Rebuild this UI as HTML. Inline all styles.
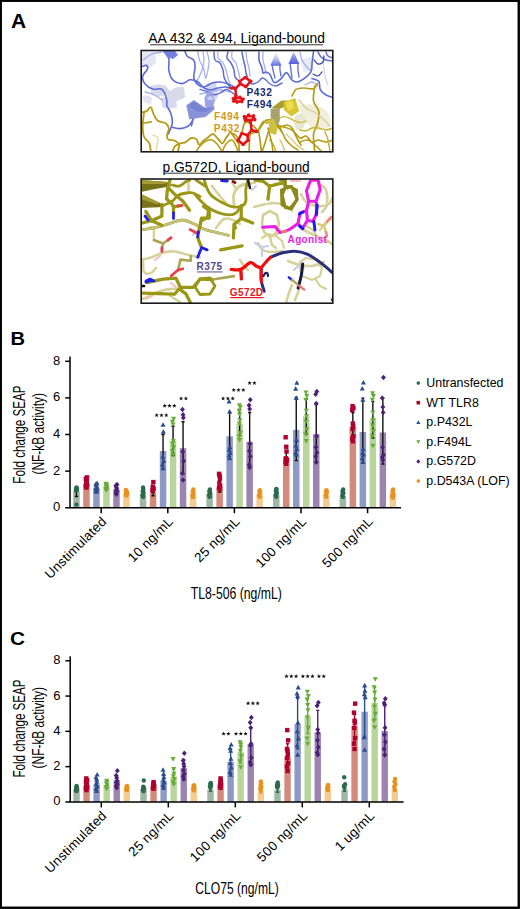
<!DOCTYPE html><html><head><meta charset="utf-8"><style>html,body{margin:0;padding:0;background:#fff;}svg{display:block;}</style></head><body>
<svg width="520" height="909" viewBox="0 0 520 909" font-family='"Liberation Sans", sans-serif'>
<rect width="520" height="909" fill="#fff"/>
<rect x="0.75" y="0.75" width="518" height="907" fill="none" stroke="#000" stroke-width="2.4"/>
<text transform="translate(10.9 27.5) scale(1.06 1)" font-size="19.8" font-weight="bold">A</text>
<text transform="translate(10.5 345.2) scale(1.13 1)" font-size="17.8" font-weight="bold">B</text>
<text transform="translate(10 644.6) scale(1.17 1)" font-size="17.8" font-weight="bold">C</text>
<text x="236.6" y="43" font-size="13.8" text-anchor="middle">AA 432 &amp; 494, Ligand-bound</text><rect x="150.2" y="44.3" width="172.8" height="1" fill="#333"/>
<text x="236.1" y="171.6" font-size="13.8" text-anchor="middle">p.G572D, Ligand-bound</text><rect x="164.4" y="172.7" width="143.6" height="1" fill="#333"/>
<g id="imgA1"><defs><clipPath id="c1"><rect x="141.2" y="50.5" width="191.6" height="101.3"/></clipPath><linearGradient id="ga" x1="0" y1="0" x2="0" y2="1"><stop offset="0" stop-color="#fff"/><stop offset="0.55" stop-color="#b8c0f0"/><stop offset="1" stop-color="#5a6ae0"/></linearGradient><linearGradient id="gb" x1="0" y1="0" x2="0" y2="1"><stop offset="0" stop-color="#c8cff5"/><stop offset="0.5" stop-color="#7d8aea"/><stop offset="1" stop-color="#5565e0"/></linearGradient></defs>
<g clip-path="url(#c1)">
<path d="M142 52 L155 52 L156 62 L150 68 L142 66Z" fill="#e4e6f3"/>
<path d="M151 86 C156 84 162 84 166 86 L170 91 C174 87 180 86 184 87 L185 97 C180 101 174 102 170 100 L166 95 C160 97 154 97 151 94 Z" fill="#d9dae9"/>
<path d="M161 98 C166 96 172 97 176 99 L177 107 C172 109 166 109 162 107 Z" fill="#d6d9ef"/>
<path d="M143 96 C146 95 150 96 152 98 L151 104 C148 104 145 103 143 101 Z" fill="#e2e3ef"/>
<path d="M206 84 L216 82 L218 96 L214 104 L208 100Z" fill="#c6ccf0" opacity="0.8"/>
<path d="M295 116 C300 112 306 113 306 118 C306 126 302 131 297 130 C294 127 293 120 295 116Z" fill="#e6e4cc" opacity="0.9"/>
<path d="M298 106 C306 102 318 104 326 110 C332 116 332 126 326 130 C318 131 310 128 306 122Z" fill="#efedd8" opacity="0.9"/>
<path d="M300 60 L312 56 L314 70 L304 72Z" fill="#e8eaf6"/>
<path d="M143.0 60.0C144.2 59.2 147.8 56.2 150.0 55.0C152.2 53.8 154.0 53.5 156.0 53.0C158.0 52.5 161.0 52.2 162.0 52.0" stroke="#a8b0e6" stroke-width="1.3" fill="none" stroke-linecap="round" stroke-linejoin="round"/>
<path d="M203.0 52.0C203.2 53.3 204.2 57.0 204.0 60.0C203.8 63.0 202.8 67.2 202.0 70.0C201.2 72.8 200.0 75.0 199.0 77.0C198.0 79.0 196.5 81.2 196.0 82.0" stroke="#a8b0e6" stroke-width="1.3" fill="none" stroke-linecap="round" stroke-linejoin="round"/>
<path d="M207.0 52.0C207.3 53.3 208.8 57.0 209.0 60.0C209.2 63.0 208.5 67.0 208.0 70.0C207.5 73.0 206.3 76.7 206.0 78.0" stroke="#a8b0e6" stroke-width="1.3" fill="none" stroke-linecap="round" stroke-linejoin="round"/>
<path d="M218.0 52.0C218.0 53.0 217.2 56.2 218.0 58.0C218.8 59.8 221.7 61.0 223.0 63.0C224.3 65.0 225.2 67.5 226.0 70.0C226.8 72.5 227.3 75.7 228.0 78.0C228.7 80.3 229.7 83.0 230.0 84.0" stroke="#a8b0e6" stroke-width="1.3" fill="none" stroke-linecap="round" stroke-linejoin="round"/>
<path d="M232.0 52.0C232.0 53.0 231.3 56.2 232.0 58.0C232.7 59.8 235.0 61.0 236.0 63.0C237.0 65.0 237.3 67.5 238.0 70.0C238.7 72.5 239.7 76.7 240.0 78.0" stroke="#a8b0e6" stroke-width="1.3" fill="none" stroke-linecap="round" stroke-linejoin="round"/>
<path d="M246.0 52.0C246.2 53.3 246.5 57.3 247.0 60.0C247.5 62.7 248.5 65.3 249.0 68.0C249.5 70.7 249.8 74.7 250.0 76.0" stroke="#a8b0e6" stroke-width="1.3" fill="none" stroke-linecap="round" stroke-linejoin="round"/>
<path d="M263.0 52.0C263.0 53.3 262.7 57.3 263.0 60.0C263.3 62.7 264.5 65.7 265.0 68.0C265.5 70.3 265.8 73.0 266.0 74.0" stroke="#a8b0e6" stroke-width="1.3" fill="none" stroke-linecap="round" stroke-linejoin="round"/>
<path d="M145.0 92.0C146.2 92.3 149.8 93.2 152.0 94.0C154.2 94.8 156.3 96.0 158.0 97.0C159.7 98.0 161.3 99.5 162.0 100.0" stroke="#a8b0e6" stroke-width="1.3" fill="none" stroke-linecap="round" stroke-linejoin="round"/>
<path d="M200.0 94.0C201.7 93.7 206.7 92.7 210.0 92.0C213.3 91.3 216.7 90.0 220.0 90.0C223.3 90.0 228.3 91.7 230.0 92.0" stroke="#a8b0e6" stroke-width="1.3" fill="none" stroke-linecap="round" stroke-linejoin="round"/>
<path d="M197.7 50.9C198.0 52.5 198.6 57.6 199.6 60.5C200.6 63.4 202.5 65.3 203.5 68.2C204.5 71.1 205.1 76.2 205.4 77.8" stroke="#a8b0e6" stroke-width="1.3" fill="none" stroke-linecap="round" stroke-linejoin="round"/>
<path d="M300.0 52.0C300.3 53.3 301.0 57.7 302.0 60.0C303.0 62.3 304.7 64.3 306.0 66.0C307.3 67.7 309.3 69.3 310.0 70.0" stroke="#a8b0e6" stroke-width="1.3" fill="none" stroke-linecap="round" stroke-linejoin="round"/>
<path d="M305.0 85.0C306.2 84.5 309.8 81.8 312.0 82.0C314.2 82.2 317.0 85.3 318.0 86.0" stroke="#a8b0e6" stroke-width="1.3" fill="none" stroke-linecap="round" stroke-linejoin="round"/>
<path d="M323.0 58.0C323.2 60.0 323.5 66.3 324.0 70.0C324.5 73.7 325.3 77.5 326.0 80.0C326.7 82.5 327.7 84.2 328.0 85.0" stroke="#d4d4e2" stroke-width="1.3" fill="none" stroke-linecap="round" stroke-linejoin="round"/>
<path d="M164.0 51.5C164.8 52.7 168.0 55.5 168.8 58.6C169.6 61.7 168.2 66.7 168.8 70.2C169.5 73.7 170.4 77.6 172.7 79.8C174.9 82.0 179.4 83.6 182.3 83.6C185.2 83.6 187.4 80.1 190.0 79.8C192.6 79.5 195.4 80.4 197.7 81.7C199.9 83.0 201.4 86.1 203.5 87.5C205.6 88.9 207.6 89.9 210.0 90.0C212.4 90.1 215.3 88.5 218.0 88.0C220.7 87.5 223.7 86.8 226.0 87.0C228.3 87.2 231.0 88.7 232.0 89.0" stroke="#5d6cd2" stroke-width="1.6" fill="none" stroke-linecap="round" stroke-linejoin="round"/>
<path d="M185.0 51.5C185.4 52.3 186.0 55.0 187.5 56.5C189.0 58.0 192.6 58.4 193.8 60.3C195.1 62.2 195.0 64.9 195.0 67.8C195.0 70.7 193.2 74.9 193.8 77.8C194.4 80.7 196.9 83.8 198.8 85.3C200.7 86.8 202.8 86.9 205.0 86.5C207.2 86.1 209.5 83.8 212.0 83.0C214.5 82.2 217.3 81.8 220.0 82.0C222.7 82.2 225.3 83.0 228.0 84.0C230.7 85.0 234.7 87.3 236.0 88.0" stroke="#5d6cd2" stroke-width="1.6" fill="none" stroke-linecap="round" stroke-linejoin="round"/>
<path d="M142.5 66.5C143.1 66.3 145.5 64.9 146.3 65.3C147.1 65.7 147.9 67.5 147.5 69.0C147.1 70.5 144.6 72.5 143.8 74.0C143.0 75.5 142.3 76.1 142.5 77.8C142.7 79.5 143.3 82.1 145.0 84.0C146.7 85.9 149.8 88.2 152.5 89.0C155.2 89.8 159.2 88.2 161.3 89.0C163.4 89.8 164.1 92.0 165.0 94.0C165.9 96.0 166.6 99.0 166.9 101.0C167.2 103.0 166.2 103.6 166.9 105.7C167.6 107.8 170.1 110.9 171.0 113.8C171.9 116.7 172.8 119.8 172.3 123.2C171.9 126.6 169.0 132.2 168.3 134.0" stroke="#5d6cd2" stroke-width="1.6" fill="none" stroke-linecap="round" stroke-linejoin="round"/>
<path d="M172.3 127.3C173.7 127.5 177.7 128.8 180.4 128.6C183.1 128.4 186.5 127.3 188.5 126.0C190.5 124.7 191.6 122.1 192.5 120.5C193.4 118.9 193.6 117.2 193.8 116.5" stroke="#5d6cd2" stroke-width="1.6" fill="none" stroke-linecap="round" stroke-linejoin="round"/>
<path d="M214.0 52.0C214.2 53.3 214.0 58.2 215.0 60.0C216.0 61.8 218.7 61.3 220.0 63.0C221.3 64.7 222.3 67.7 223.0 70.0C223.7 72.3 223.3 74.8 224.0 77.0C224.7 79.2 225.8 81.2 227.0 83.0C228.2 84.8 230.3 87.2 231.0 88.0" stroke="#5d6cd2" stroke-width="1.5" fill="none" stroke-linecap="round" stroke-linejoin="round"/>
<path d="M228.0 52.0C227.8 53.0 226.5 56.2 227.0 58.0C227.5 59.8 229.8 61.0 231.0 63.0C232.2 65.0 233.3 67.7 234.0 70.0C234.7 72.3 234.2 75.2 235.0 77.0C235.8 78.8 238.3 80.3 239.0 81.0" stroke="#5d6cd2" stroke-width="1.5" fill="none" stroke-linecap="round" stroke-linejoin="round"/>
<path d="M242.0 52.0C242.2 53.0 242.5 55.7 243.0 58.0C243.5 60.3 244.5 63.5 245.0 66.0C245.5 68.5 245.5 70.8 246.0 73.0C246.5 75.2 247.7 78.0 248.0 79.0" stroke="#5d6cd2" stroke-width="1.5" fill="none" stroke-linecap="round" stroke-linejoin="round"/>
<path d="M259.0 52.0C259.0 53.3 258.5 57.3 259.0 60.0C259.5 62.7 261.3 65.8 262.0 68.0C262.7 70.2 262.3 72.3 263.0 73.0C263.7 73.7 264.8 71.7 266.0 72.0C267.2 72.3 268.6 72.8 270.0 74.6C271.4 76.4 272.5 81.9 274.4 82.6C276.3 83.3 279.2 80.3 281.2 78.6C283.2 76.9 284.7 72.4 286.5 72.6C288.3 72.8 290.1 78.4 291.9 80.0C293.7 81.6 295.3 82.2 297.3 82.0C299.3 81.8 301.8 80.3 304.0 78.6C306.2 76.9 309.4 74.6 310.8 71.9C312.2 69.2 311.7 65.9 312.1 62.5C312.6 59.1 313.3 53.5 313.5 51.7" stroke="#5d6cd2" stroke-width="1.6" fill="none" stroke-linecap="round" stroke-linejoin="round"/>
<path d="M200.0 89.4C201.3 89.8 205.5 91.1 208.0 92.0C210.5 92.9 212.5 94.8 214.8 94.8C217.1 94.8 220.0 92.9 222.0 92.0C224.0 91.1 224.7 88.9 226.9 89.4C229.1 89.9 233.7 93.9 235.0 94.8" stroke="#5d6cd2" stroke-width="1.4" fill="none" stroke-linecap="round" stroke-linejoin="round"/>
<path d="M248.0 80.0C248.7 80.7 250.3 83.7 252.0 84.0C253.7 84.3 256.3 83.0 258.0 82.0C259.7 81.0 260.7 78.3 262.0 78.0C263.3 77.7 264.7 79.0 266.0 80.0C267.3 81.0 268.3 83.0 270.0 84.0C271.7 85.0 274.0 86.2 276.0 86.0C278.0 85.8 281.0 83.5 282.0 83.0" stroke="#5d6cd2" stroke-width="1.4" fill="none" stroke-linecap="round" stroke-linejoin="round"/>
<path d="M312.0 78.6C313.1 79.0 317.4 79.5 318.8 81.3C320.2 83.1 319.1 87.2 320.2 89.4C321.3 91.7 323.5 93.5 325.6 94.8C327.7 96.1 331.8 97.0 333.0 97.5" stroke="#5d6cd2" stroke-width="1.6" fill="none" stroke-linecap="round" stroke-linejoin="round"/>
<path d="M318.0 52.0C318.5 52.8 319.7 55.7 321.0 57.0C322.3 58.3 324.0 59.3 326.0 60.0C328.0 60.7 331.8 60.8 333.0 61.0" stroke="#5d6cd2" stroke-width="1.5" fill="none" stroke-linecap="round" stroke-linejoin="round"/>
<path d="M272.0 64.0C272.2 65.0 272.5 67.7 273.0 70.0C273.5 72.3 274.7 76.7 275.0 78.0" stroke="#5d6cd2" stroke-width="1.3" fill="none" stroke-linecap="round" stroke-linejoin="round"/>
<path d="M280.0 64.0C280.0 65.0 279.8 68.0 280.0 70.0C280.2 72.0 280.8 75.0 281.0 76.0" stroke="#5d6cd2" stroke-width="1.3" fill="none" stroke-linecap="round" stroke-linejoin="round"/>
<path d="M290.0 63.0C290.2 64.2 290.7 67.5 291.0 70.0C291.3 72.5 291.8 76.7 292.0 78.0" stroke="#5d6cd2" stroke-width="1.3" fill="none" stroke-linecap="round" stroke-linejoin="round"/>
<path d="M298.0 63.0C298.0 64.2 297.8 67.7 298.0 70.0C298.2 72.3 298.8 75.8 299.0 77.0" stroke="#5d6cd2" stroke-width="1.3" fill="none" stroke-linecap="round" stroke-linejoin="round"/>
<path d="M326.0 52.0C326.3 52.7 326.8 55.0 328.0 56.0C329.2 57.0 332.2 57.7 333.0 58.0" stroke="#5d6cd2" stroke-width="1.4" fill="none" stroke-linecap="round" stroke-linejoin="round"/>
<path d="M314.0 60.0C314.7 60.7 316.5 63.7 318.0 64.0C319.5 64.3 322.0 63.3 323.0 62.0C324.0 60.7 323.8 57.0 324.0 56.0" stroke="#3a4aa8" stroke-width="1.3" fill="none" stroke-linecap="round" stroke-linejoin="round"/>
<path d="M313.0 74.0C313.8 74.3 316.5 76.3 318.0 76.0C319.5 75.7 321.3 72.7 322.0 72.0" stroke="#3a4aa8" stroke-width="1.2" fill="none" stroke-linecap="round" stroke-linejoin="round"/>
<path d="M275.8 51.5 L281.4 65.8 L270.4 65.8Z" fill="url(#ga)"/>
<path d="M293.6 51.5 L299.4 64 L288.4 64Z" fill="url(#gb)"/>
<path d="M164 51 L175 51 L178 55 L173 59 L167 57Z" fill="#7280e0"/>
<path d="M186.2 105.4 L193.8 100 L205.4 107.7 L213.8 105.4 L214.6 109.2 L205.4 116.9 L195.4 118.5 L189.2 119.2 L187.7 111.5Z" fill="#8893da"/>
<path d="M188 106 L194 102 L205 109 L213 106.5 L205 112 L196 111Z" fill="#7682d2"/>
<path d="M204.6 97.7 L207.7 91.5 L212.3 92.3 L214.6 101.5 L213.1 106.2 L205.4 107.7 L204.6 101.5Z" fill="#9aa3e4"/>
<path d="M207 97 L212 96 L213 100 L208 100Z" fill="#c8cdf5"/>
<path d="M193.0 119.2L191.5 126.0" stroke="#5d6cd2" stroke-width="1.4" fill="none" stroke-linecap="round" stroke-linejoin="round"/>
<path d="M141.3 112.5C142.2 112.3 145.1 112.0 146.7 111.1C148.3 110.2 149.7 106.6 150.8 107.1C151.9 107.5 152.4 111.6 153.5 113.8C154.6 116.0 155.5 118.9 157.5 120.5C159.5 122.1 163.7 121.9 165.6 123.2C167.5 124.5 168.7 126.6 168.9 128.6C169.1 130.6 167.0 133.5 166.9 135.3C166.8 137.1 167.0 138.5 168.3 139.4C169.7 140.3 173.2 139.8 175.0 140.7C176.8 141.6 178.6 142.9 179.0 144.8C179.4 146.7 177.9 150.8 177.7 152.0" stroke="#b49c14" stroke-width="1.8" fill="none" stroke-linecap="round" stroke-linejoin="round"/>
<path d="M144.0 112.5C143.8 114.7 142.7 121.9 142.7 125.9C142.7 129.9 142.9 133.8 144.0 136.7C145.1 139.6 148.3 140.8 149.4 143.4C150.5 146.0 150.6 150.6 150.8 152.0" stroke="#b49c14" stroke-width="1.8" fill="none" stroke-linecap="round" stroke-linejoin="round"/>
<path d="M142.7 123.2L151.4 121.9" stroke="#b49c14" stroke-width="1.6" fill="none" stroke-linecap="round" stroke-linejoin="round"/>
<path d="M153.0 135.0C153.8 135.5 157.3 136.3 158.0 138.0C158.7 139.7 157.3 142.8 157.0 145.0C156.7 147.2 156.2 150.0 156.0 151.0" stroke="#e2dcaa" stroke-width="1.4" fill="none" stroke-linecap="round" stroke-linejoin="round"/>
<path d="M172.3 152.0C172.8 151.0 173.7 147.5 175.0 146.1C176.3 144.7 178.6 144.1 180.4 143.4C182.2 142.7 184.0 143.0 185.8 142.1C187.6 141.2 189.3 138.4 191.1 138.0C192.9 137.6 195.2 138.3 196.5 139.4C197.8 140.5 198.1 144.6 199.2 144.8C200.3 145.0 202.0 141.8 203.3 140.7C204.7 139.6 205.7 139.1 207.3 138.0C208.9 136.9 211.2 133.8 213.0 134.0C214.8 134.2 216.4 137.4 218.0 139.0C219.6 140.6 221.2 143.6 222.5 143.4C223.8 143.2 224.7 139.8 226.0 138.0C227.3 136.2 229.3 132.8 230.6 132.6C231.9 132.4 232.7 135.2 234.0 137.0C235.3 138.8 237.8 142.3 238.6 143.4" stroke="#b49c14" stroke-width="1.8" fill="none" stroke-linecap="round" stroke-linejoin="round"/>
<path d="M196.0 152.0C196.7 151.0 198.3 147.8 200.0 146.0C201.7 144.2 204.0 142.0 206.0 141.0C208.0 140.0 210.0 139.3 212.0 140.0C214.0 140.7 216.3 143.0 218.0 145.0C219.7 147.0 221.3 150.8 222.0 152.0" stroke="#b49c14" stroke-width="1.6" fill="none" stroke-linecap="round" stroke-linejoin="round"/>
<path d="M222.0 152.0C222.7 150.7 224.3 146.0 226.0 144.0C227.7 142.0 230.3 139.7 232.0 140.0C233.7 140.3 235.0 144.0 236.0 146.0C237.0 148.0 237.7 151.0 238.0 152.0" stroke="#b49c14" stroke-width="1.6" fill="none" stroke-linecap="round" stroke-linejoin="round"/>
<path d="M232.0 133.4C232.5 133.6 234.1 133.6 235.1 134.6C236.1 135.6 237.5 136.6 238.2 139.5C238.9 142.4 239.2 149.9 239.4 152.0" stroke="#b49c14" stroke-width="1.7" fill="none" stroke-linecap="round" stroke-linejoin="round"/>
<path d="M241.8 133.4C242.2 131.8 243.3 125.3 244.3 123.5C245.3 121.7 246.7 122.1 248.0 122.3C249.3 122.5 250.8 123.5 252.3 124.8C253.8 126.1 256.1 128.9 257.2 130.3C258.3 131.7 258.3 129.8 259.0 133.4C259.7 137.0 261.1 148.9 261.5 152.0" stroke="#b49c14" stroke-width="1.7" fill="none" stroke-linecap="round" stroke-linejoin="round"/>
<path d="M249.2 152.0C249.3 149.3 249.3 138.9 249.8 135.8C250.3 132.7 251.0 134.2 252.3 133.4C253.6 132.6 255.9 132.8 257.8 130.9C259.8 129.1 262.3 124.1 264.0 122.3C265.7 120.5 267.3 120.4 268.0 120.0" stroke="#b49c14" stroke-width="1.7" fill="none" stroke-linecap="round" stroke-linejoin="round"/>
<path d="M257.8 130.9C258.4 129.8 260.5 125.7 261.5 124.0C262.5 122.3 263.6 121.5 264.0 121.0" stroke="#b49c14" stroke-width="1.6" fill="none" stroke-linecap="round" stroke-linejoin="round"/>
<path d="M262.0 152.0C262.7 150.0 264.7 144.0 266.0 140.0C267.3 136.0 268.3 130.3 270.0 128.0C271.7 125.7 274.0 125.3 276.0 126.0C278.0 126.7 280.3 129.7 282.0 132.0C283.7 134.3 284.3 137.7 286.0 140.0C287.7 142.3 290.0 144.3 292.0 146.0C294.0 147.7 297.0 149.3 298.0 150.0" stroke="#b49c14" stroke-width="1.6" fill="none" stroke-linecap="round" stroke-linejoin="round"/>
<path d="M266.0 123.0C267.0 122.8 269.7 121.5 272.0 122.0C274.3 122.5 276.7 124.7 280.0 126.0C283.3 127.3 288.7 128.0 292.0 130.0C295.3 132.0 297.7 137.0 300.0 138.0C302.3 139.0 304.0 135.3 306.0 136.0C308.0 136.7 310.0 141.3 312.0 142.0C314.0 142.7 315.7 140.0 318.0 140.0C320.3 140.0 323.5 142.0 326.0 142.0C328.5 142.0 331.8 140.3 333.0 140.0" stroke="#b49c14" stroke-width="1.6" fill="none" stroke-linecap="round" stroke-linejoin="round"/>
<path d="M270.0 140.0C270.7 141.0 273.0 144.0 274.0 146.0C275.0 148.0 275.7 151.0 276.0 152.0" stroke="#c8b430" stroke-width="1.6" fill="none" stroke-linecap="round" stroke-linejoin="round"/>
<path d="M280.0 140.0C280.5 141.0 282.2 144.0 283.0 146.0C283.8 148.0 284.7 151.0 285.0 152.0" stroke="#d4c470" stroke-width="1.5" fill="none" stroke-linecap="round" stroke-linejoin="round"/>
<path d="M291.9 96.1C292.6 95.0 294.0 90.8 296.0 89.4C298.0 88.1 301.1 88.1 304.0 88.0C306.9 87.9 311.2 89.5 313.5 88.7C315.8 87.9 316.8 84.2 317.5 83.3" stroke="#b49c14" stroke-width="1.6" fill="none" stroke-linecap="round" stroke-linejoin="round"/>
<path d="M314.8 86.0C314.6 88.5 312.8 96.5 313.5 100.8C314.2 105.0 318.1 107.7 318.8 111.5C319.5 115.3 318.4 119.8 317.5 123.6C316.6 127.4 313.9 129.7 313.5 134.4C313.1 139.1 314.6 149.1 314.8 152.0" stroke="#b49c14" stroke-width="1.7" fill="none" stroke-linecap="round" stroke-linejoin="round"/>
<path d="M300.0 130.0C301.0 130.2 304.0 131.3 306.0 131.0C308.0 130.7 310.0 128.5 312.0 128.0C314.0 127.5 315.7 127.7 318.0 128.0C320.3 128.3 323.5 130.0 326.0 130.0C328.5 130.0 331.8 128.3 333.0 128.0" stroke="#c8b430" stroke-width="1.5" fill="none" stroke-linecap="round" stroke-linejoin="round"/>
<path d="M299.0 100.0C300.2 101.3 303.5 106.0 306.0 108.0C308.5 110.0 311.3 110.3 314.0 112.0C316.7 113.7 319.3 115.7 322.0 118.0C324.7 120.3 328.7 124.7 330.0 126.0" stroke="#d8d0a0" stroke-width="1.4" fill="none" stroke-linecap="round" stroke-linejoin="round"/>
<path d="M286.0 134.0C287.0 135.0 290.0 138.0 292.0 140.0C294.0 142.0 296.0 144.3 298.0 146.0C300.0 147.7 303.0 149.3 304.0 150.0" stroke="#d8cc80" stroke-width="1.4" fill="none" stroke-linecap="round" stroke-linejoin="round"/>
<path d="M300.0 142.0C301.3 141.7 305.3 139.3 308.0 140.0C310.7 140.7 313.7 144.0 316.0 146.0C318.3 148.0 321.0 151.0 322.0 152.0" stroke="#b49c14" stroke-width="1.5" fill="none" stroke-linecap="round" stroke-linejoin="round"/>
<path d="M325.0 132.0C325.5 133.3 327.2 136.7 328.0 140.0C328.8 143.3 329.7 150.0 330.0 152.0" stroke="#c8b430" stroke-width="1.5" fill="none" stroke-linecap="round" stroke-linejoin="round"/>
<path d="M266.0 120.4C266.8 120.3 268.9 119.2 270.6 119.6C272.3 120.0 274.5 121.4 276.0 122.7C277.5 124.0 278.9 125.9 279.8 127.3C280.7 128.7 281.1 130.4 281.4 131.0" stroke="#b49c14" stroke-width="1.7" fill="none" stroke-linecap="round" stroke-linejoin="round"/>
<path d="M276.0 125.8C276.9 125.9 279.5 126.6 281.4 126.5C283.3 126.4 285.7 124.8 287.5 125.0C289.3 125.2 290.8 126.5 292.0 128.0C293.2 129.5 294.0 132.0 295.0 134.0C296.0 136.0 297.0 138.2 298.0 140.0C299.0 141.8 300.5 144.2 301.0 145.0" stroke="#b49c14" stroke-width="1.7" fill="none" stroke-linecap="round" stroke-linejoin="round"/>
<path d="M279.8 118.0C280.4 117.8 282.2 116.5 283.7 116.5C285.2 116.5 287.1 117.2 289.0 118.0C290.9 118.8 293.1 120.2 295.0 121.0C296.9 121.8 298.8 122.7 300.6 122.7C302.4 122.7 305.1 121.3 306.0 121.0" stroke="#cfc050" stroke-width="1.5" fill="none" stroke-linecap="round" stroke-linejoin="round"/>
<path d="M268.0 128.0C268.3 129.3 269.3 133.3 270.0 136.0C270.7 138.7 271.5 141.3 272.0 144.0C272.5 146.7 272.8 150.7 273.0 152.0" stroke="#b49c14" stroke-width="1.6" fill="none" stroke-linecap="round" stroke-linejoin="round"/>
<path d="M270.6 108.8 L279.8 108.1 L279.8 120.4 L277.5 125.8 L272.2 124.2 L270.6 116.5Z" fill="#a9a26e"/>
<path d="M271.4 108.1 L281.4 100.4 L287.5 100.4 L283.7 107.3 L279.8 108.8Z" fill="#aa9c30"/>
<path d="M283.7 101.9 L295.2 98.1 L299.1 111.2 L291.4 116.5 L283.7 109.6Z" fill="#d8c430"/>
<path d="M285.5 103 L292 100.5 L294.5 108 L288 111Z" fill="#ecdc50"/>
<path d="M268.3 120 L274 119 L277.5 128 L276 135 L270 133Z" fill="#cfc040"/>
<g stroke="#e6121a" stroke-width="2.5" fill="none" stroke-linejoin="round" stroke-linecap="round"><path d="M239.7 81.2 L245.2 77.5 L250.8 81.2 L245.8 86.8 L240.3 83.7 L239.7 81.2"/><path d="M239.7 84.3 L235.4 88.6 L230.5 88"/><path d="M235.4 88.6 L236 95.4 L234.2 98.5"/></g><g fill="#e6121a"><circle cx="239.7" cy="81.2" r="1.75"/><circle cx="245.2" cy="77.5" r="1.75"/><circle cx="250.8" cy="81.2" r="1.75"/><circle cx="245.8" cy="86.8" r="1.75"/><circle cx="240.3" cy="83.7" r="1.75"/><circle cx="235.4" cy="88.6" r="1.75"/><circle cx="236" cy="95.4" r="1.75"/></g>
<ellipse cx="238.2" cy="99.8" rx="6" ry="3.2" fill="#e6121a"/>
<ellipse cx="238.5" cy="99.6" rx="2.2" ry="0.9" fill="#f4a0a0"/>
<g stroke="#e6121a" stroke-width="2.5" fill="none" stroke-linejoin="round" stroke-linecap="round"></g><g fill="#e6121a"><circle cx="233" cy="98.5" r="1.4"/><circle cx="236" cy="97" r="1.4"/><circle cx="240" cy="97" r="1.4"/><circle cx="243.5" cy="99" r="1.4"/><circle cx="242" cy="102" r="1.4"/><circle cx="237" cy="102.5" r="1.4"/><circle cx="233.5" cy="101.5" r="1.4"/></g>
<ellipse cx="249.2" cy="118.3" rx="6.2" ry="3.4" fill="#e6121a"/>
<ellipse cx="249.5" cy="118" rx="2.5" ry="1" fill="#f4b0b0"/>
<g stroke="#e6121a" stroke-width="2.5" fill="none" stroke-linejoin="round" stroke-linecap="round"><path d="M250.5 121.7 L251.7 130.3 L256.6 131.5"/><path d="M251.7 130.3 L247.4 135.2"/><path d="M247.4 135.2 L241.8 133.4 L238.2 140.2 L243.1 144.5 L248 140.2 L247.4 135.2"/></g><g fill="#e6121a"><circle cx="244.3" cy="116.5" r="1.75"/><circle cx="248.6" cy="115" r="1.75"/><circle cx="253.5" cy="115.8" r="1.75"/><circle cx="254.8" cy="119.8" r="1.75"/><circle cx="250.5" cy="121.7" r="1.75"/><circle cx="245.5" cy="120.5" r="1.75"/><circle cx="251.7" cy="130.3" r="1.75"/><circle cx="247.4" cy="135.2" r="1.75"/><circle cx="241.8" cy="133.4" r="1.75"/><circle cx="238.2" cy="140.2" r="1.75"/><circle cx="243.1" cy="144.5" r="1.75"/><circle cx="248" cy="140.2" r="1.75"/><circle cx="256.6" cy="131.5" r="1.75"/></g>
</g>
<g font-weight="bold" font-size="10.2" letter-spacing="0.6" fill="#1c2a6c"><text x="246.4" y="95.8">P432</text><text x="246.7" y="108.3">F494</text></g>
<g font-weight="bold" font-size="10.2" letter-spacing="0.6" fill="#cf9a1e"><text x="214" y="120.3">F494</text><text x="213.8" y="131.8">P432</text></g></g>
<g id="imgA2"><defs><clipPath id="c2"><rect x="141.2" y="179" width="191.6" height="124.2"/></clipPath></defs>
<g clip-path="url(#c2)">
<path d="M141.9 259.6C143.5 259.2 148.0 258.5 151.5 257.3C155.0 256.1 159.2 253.7 163.1 252.7C166.9 251.7 170.4 251.1 174.6 251.5C178.8 251.9 184.3 254.0 188.5 255.0C192.7 256.0 198.1 256.9 200.0 257.3" stroke="#d6d29c" stroke-width="2.6" fill="none" stroke-linecap="round" stroke-linejoin="round"/>
<path d="M143.0 260.0C143.2 262.0 142.7 269.8 144.0 272.0C145.3 274.2 149.0 273.7 151.0 273.0C153.0 272.3 155.2 268.8 156.0 268.0" stroke="#d6d29c" stroke-width="2.6" fill="none" stroke-linecap="round" stroke-linejoin="round"/>
<path d="M140.0 300.0C141.7 299.3 146.7 297.5 150.0 296.0C153.3 294.5 155.7 292.2 160.0 291.0C164.3 289.8 171.7 288.7 176.0 289.0C180.3 289.3 184.3 292.3 186.0 293.0" stroke="#d6d29c" stroke-width="2.6" fill="none" stroke-linecap="round" stroke-linejoin="round"/>
<path d="M212.0 186.0C213.2 187.5 216.7 192.2 219.0 195.0C221.3 197.8 224.8 201.7 226.0 203.0" stroke="#d6d29c" stroke-width="2.6" fill="none" stroke-linecap="round" stroke-linejoin="round"/>
<path d="M234.0 205.0C234.0 203.2 232.8 197.2 234.0 194.0C235.2 190.8 238.0 187.8 241.0 186.0C244.0 184.2 250.2 183.5 252.0 183.0" stroke="#d6d29c" stroke-width="2.6" fill="none" stroke-linecap="round" stroke-linejoin="round"/>
<path d="M216.0 228.0C217.3 226.5 221.2 220.3 224.0 219.0C226.8 217.7 230.3 219.2 233.0 220.0C235.7 220.8 238.8 223.3 240.0 224.0" stroke="#d6d29c" stroke-width="2.6" fill="none" stroke-linecap="round" stroke-linejoin="round"/>
<path d="M301.0 194.0C301.8 195.3 303.2 200.0 306.0 202.0C308.8 204.0 314.2 205.7 318.0 206.0C321.8 206.3 326.5 205.7 329.0 204.0C331.5 202.3 332.3 197.3 333.0 196.0" stroke="#d6d29c" stroke-width="2.6" fill="none" stroke-linecap="round" stroke-linejoin="round"/>
<path d="M318.0 183.0C319.3 184.2 324.5 186.3 326.0 190.0C327.5 193.7 327.7 201.3 327.0 205.0C326.3 208.7 322.8 210.8 322.0 212.0" stroke="#d6d29c" stroke-width="2.6" fill="none" stroke-linecap="round" stroke-linejoin="round"/>
<path d="M254.0 207.0C255.3 206.7 258.7 205.7 262.0 205.0C265.3 204.3 270.3 203.0 274.0 203.0C277.7 203.0 281.0 203.7 284.0 205.0C287.0 206.3 290.7 210.0 292.0 211.0" stroke="#d6d29c" stroke-width="2.6" fill="none" stroke-linecap="round" stroke-linejoin="round"/>
<path d="M258.0 243.0C258.8 244.2 260.7 248.5 263.0 250.0C265.3 251.5 268.7 251.8 272.0 252.0C275.3 252.2 281.2 251.2 283.0 251.0" stroke="#d6d29c" stroke-width="2.6" fill="none" stroke-linecap="round" stroke-linejoin="round"/>
<path d="M304.0 230.0C305.7 230.8 310.3 233.3 314.0 235.0C317.7 236.7 322.8 238.3 326.0 240.0C329.2 241.7 331.8 244.2 333.0 245.0" stroke="#d6d29c" stroke-width="2.6" fill="none" stroke-linecap="round" stroke-linejoin="round"/>
<path d="M240.0 260.0C240.7 261.0 242.7 264.3 244.0 266.0C245.3 267.7 247.3 269.3 248.0 270.0" stroke="#d6d29c" stroke-width="2.6" fill="none" stroke-linecap="round" stroke-linejoin="round"/>
<path d="M288.0 261.0C290.0 261.7 296.0 264.2 300.0 265.0C304.0 265.8 308.0 266.5 312.0 266.0C316.0 265.5 322.0 262.7 324.0 262.0" stroke="#d6d29c" stroke-width="2.6" fill="none" stroke-linecap="round" stroke-linejoin="round"/>
<path d="M292.0 285.0C291.3 286.8 289.0 292.8 288.0 296.0C287.0 299.2 286.3 302.7 286.0 304.0" stroke="#d6d29c" stroke-width="2.6" fill="none" stroke-linecap="round" stroke-linejoin="round"/>
<path d="M299.0 290.0L295.0 300.0" stroke="#d6d29c" stroke-width="2.6" fill="none" stroke-linecap="round" stroke-linejoin="round"/>
<path d="M170.0 296.0L180.0 302.0" stroke="#d6d29c" stroke-width="2.6" fill="none" stroke-linecap="round" stroke-linejoin="round"/>
<path d="M262.0 238.0 L268.0 234.0 L276.0 236.0 L282.0 241.0 L284.0 248.0" stroke="#d6d296" stroke-width="2.2" fill="none" stroke-linejoin="round" stroke-linecap="round"/>
<path d="M276.0 236.0 L280.0 230.0" stroke="#d6d296" stroke-width="2.2" fill="none" stroke-linejoin="round" stroke-linecap="round"/>
<path d="M300.0 262.0 L306.0 258.0 L316.0 260.0 L322.0 268.0 L320.0 276.0 L312.0 280.0 L302.0 276.0 L300.0 268.0 L300.0 262.0" stroke="#d6d296" stroke-width="2.2" fill="none" stroke-linejoin="round" stroke-linecap="round"/>
<path d="M316.0 280.0 L320.0 286.0 L326.0 289.0" stroke="#d6d296" stroke-width="2.2" fill="none" stroke-linejoin="round" stroke-linecap="round"/>
<path d="M306.0 226.0 L313.0 230.0 L318.0 238.0" stroke="#d6d296" stroke-width="2.2" fill="none" stroke-linejoin="round" stroke-linecap="round"/>
<path d="M320.0 230.0 L326.0 222.0 L333.0 218.0" stroke="#d6d296" stroke-width="2.2" fill="none" stroke-linejoin="round" stroke-linecap="round"/>
<path d="M150.0 227.0 L153.8 227.3 L153.8 240.0 L163.1 243.5" stroke="#d6d296" stroke-width="2.2" fill="none" stroke-linejoin="round" stroke-linecap="round"/>
<path d="M263.0 215.0 L270.0 211.0 L277.0 215.0 L279.0 224.0 L276.0 233.0 L270.0 237.0 L264.0 232.0 L262.0 224.0 L263.0 215.0" stroke="#d6d296" stroke-width="2.6" fill="none" stroke-linejoin="round" stroke-linecap="round"/>
<path d="M270.0 237.0 L272.0 245.0 L276.0 248.0" stroke="#d6d296" stroke-width="2.6" fill="none" stroke-linejoin="round" stroke-linecap="round"/>
<path d="M234.2 204.5C234.2 202.6 233.0 196.2 234.2 193.0C235.4 189.8 237.7 186.7 241.2 185.0C244.7 183.3 252.7 183.0 255.0 182.6" stroke="#d6d29c" stroke-width="2.6" fill="none" stroke-linecap="round" stroke-linejoin="round"/>
<path d="M232.0 182.6L236.5 189.5" stroke="#d6d29c" stroke-width="2.4" fill="none" stroke-linecap="round" stroke-linejoin="round"/>
<path d="M188.5 180.0L188.5 193.0" stroke="#d6d29c" stroke-width="2.6" fill="none" stroke-linecap="round" stroke-linejoin="round"/>
<path d="M255.0 243.0 L262.0 247.0 L268.0 246.0" stroke="#c8cce8" stroke-width="2.2" fill="none" stroke-linejoin="round" stroke-linecap="round"/>
<path d="M262.0 247.0 L262.0 256.0" stroke="#c8cce8" stroke-width="2.2" fill="none" stroke-linejoin="round" stroke-linecap="round"/>
<path d="M252.0 190.0 L256.0 186.0" stroke="#c8cce8" stroke-width="2" fill="none" stroke-linejoin="round" stroke-linecap="round"/>
<path d="M192 235 L200 231" stroke="#c0c6f0" stroke-width="2"/>
<path d="M294.0 270.0 L298.0 266.0 L304.0 268.0" stroke="#c8cce8" stroke-width="2" fill="none" stroke-linejoin="round" stroke-linecap="round"/>
<path d="M171.0 283.0 L176.0 287.0" stroke="#f4c0c0" stroke-width="2.2" fill="none" stroke-linejoin="round" stroke-linecap="round"/>
<path d="M146.0 299.0 L152.0 296.0" stroke="#f4c0c0" stroke-width="2.2" fill="none" stroke-linejoin="round" stroke-linecap="round"/>
<path d="M155.0 260.0 L160.0 256.0" stroke="#f4c0c0" stroke-width="2.2" fill="none" stroke-linejoin="round" stroke-linecap="round"/>
<path d="M291.0 181.0 L299.0 181.0" stroke="#f4c0c0" stroke-width="2.2" fill="none" stroke-linejoin="round" stroke-linecap="round"/>
<path d="M141 180 L168 182 L172 186 L150 190 L141 192Z" fill="#77721a"/>
<path d="M141 180 L168 182 L165 184 L141 184Z" fill="#a29c30"/>
<path d="M141 194 L160 203 L164 207 L141 208Z" fill="#77721a"/>
<path d="M141 194 L160 203 L156 204 L141 199Z" fill="#a29c30"/>
<path d="M172.3 184.9C173.5 185.1 176.9 186.7 179.2 186.1C181.5 185.5 184.5 182.5 186.2 181.5C187.9 180.5 189.0 180.5 189.6 180.3" stroke="#9a9716" stroke-width="2.8" fill="none" stroke-linecap="round" stroke-linejoin="round"/>
<path d="M163.0 205.7C164.6 204.9 169.8 202.8 172.3 201.1C174.8 199.4 175.8 196.7 178.1 195.3C180.4 194.0 183.7 193.4 186.2 193.0C188.7 192.6 190.8 192.4 193.1 193.0C195.4 193.6 198.8 195.9 200.0 196.5" stroke="#9a9716" stroke-width="2.8" fill="none" stroke-linecap="round" stroke-linejoin="round"/>
<path d="M204.2 179.5C204.6 180.8 205.3 184.6 206.5 187.2C207.7 189.8 208.7 192.8 211.2 195.3C213.7 197.8 217.8 200.3 221.5 202.2C225.2 204.1 229.6 206.2 233.1 206.8C236.6 207.4 240.2 206.6 242.3 205.7C244.4 204.8 245.2 203.8 245.8 201.1C246.4 198.4 245.4 193.1 245.8 189.5C246.2 185.9 247.7 181.2 248.1 179.5" stroke="#9a9716" stroke-width="2.8" fill="none" stroke-linecap="round" stroke-linejoin="round"/>
<path d="M195.0 194.2C196.0 195.3 198.5 198.8 200.8 201.1C203.1 203.4 205.9 206.1 208.8 208.0C211.7 209.9 214.6 211.4 218.1 212.6C221.6 213.8 226.5 214.9 229.6 214.9C232.7 214.9 234.8 213.9 236.5 212.6C238.2 211.2 239.4 207.8 240.0 206.8" stroke="#9a9716" stroke-width="2.8" fill="none" stroke-linecap="round" stroke-linejoin="round"/>
<path d="M141.9 229.6C144.2 229.3 150.9 228.7 155.4 227.7C159.9 226.7 164.3 225.1 168.8 223.8C173.3 222.5 178.1 220.0 182.3 220.0C186.5 220.0 190.0 222.2 193.8 223.8C197.7 225.4 200.9 228.0 205.4 229.6C209.9 231.2 217.0 232.5 220.8 233.5C224.7 234.5 227.2 235.1 228.5 235.4" stroke="#9a9716" stroke-width="2.8" fill="none" stroke-linecap="round" stroke-linejoin="round"/>
<path d="M196.0 180.0L205.0 186.0" stroke="#9a9716" stroke-width="2.8" fill="none" stroke-linecap="round" stroke-linejoin="round"/>
<path d="M141.9 229.6C144.2 229.3 150.9 228.7 155.4 227.7C159.9 226.7 164.3 225.1 168.8 223.8C173.3 222.5 178.1 220.0 182.3 220.0C186.5 220.0 190.0 222.2 193.8 223.8C197.7 225.4 200.9 228.0 205.4 229.6C209.9 231.2 217.0 232.5 220.8 233.5C224.7 234.5 227.2 235.1 228.5 235.4" stroke="#c4c07a" stroke-width="2.4" fill="none" stroke-linecap="round" stroke-linejoin="round"/>
<path d="M170.0 180.3 L167.7 187.2 L166.5 198.8 L172.3 204.5 L173.5 206.8 L173.5 213.0" stroke="#9a9716" stroke-width="3.3" fill="none" stroke-linejoin="round" stroke-linecap="round"/>
<path d="M167.7 187.2 L175.8 195.3 L182.7 201.1 L189.6 210.3" stroke="#9a9716" stroke-width="3.3" fill="none" stroke-linejoin="round" stroke-linecap="round"/>
<path d="M173.5 206.8 L178.0 206.0" stroke="#9a9716" stroke-width="3.3" fill="none" stroke-linejoin="round" stroke-linecap="round"/>
<path d="M161.9 204.5 L161.9 216.1 L151.5 220.7 L145.8 211.5" stroke="#9a9716" stroke-width="3.3" fill="none" stroke-linejoin="round" stroke-linecap="round"/>
<path d="M151.5 220.7 L161.9 225.3" stroke="#9a9716" stroke-width="3.3" fill="none" stroke-linejoin="round" stroke-linecap="round"/>
<path d="M142.3 223.0 L151.5 220.7" stroke="#9a9716" stroke-width="3.3" fill="none" stroke-linejoin="round" stroke-linecap="round"/>
<path d="M203.5 206.5 L209.2 210.4 L209.2 218.1 L201.5 218.1 L199.6 227.7 L198.5 232.0" stroke="#9a9716" stroke-width="3.3" fill="none" stroke-linejoin="round" stroke-linecap="round"/>
<path d="M197.7 237.0 L199.0 241.2 L201.7 247.9" stroke="#9a9716" stroke-width="3.3" fill="none" stroke-linejoin="round" stroke-linecap="round"/>
<path d="M208.8 208.0 L207.7 217.2 L201.9 220.7" stroke="#9a9716" stroke-width="3.3" fill="none" stroke-linejoin="round" stroke-linecap="round"/>
<path d="M241.2 205.7 L241.2 218.4 L234.2 224.2 L235.4 228.0" stroke="#9a9716" stroke-width="3.3" fill="none" stroke-linejoin="round" stroke-linecap="round"/>
<path d="M241.2 218.4 L252.7 223.0" stroke="#9a9716" stroke-width="3.3" fill="none" stroke-linejoin="round" stroke-linecap="round"/>
<path d="M220.6 249.9 L242.1 245.9" stroke="#9a9716" stroke-width="3.3" fill="none" stroke-linejoin="round" stroke-linecap="round"/>
<path d="M234.0 225.0 L233.4 237.8" stroke="#9a9716" stroke-width="3.3" fill="none" stroke-linejoin="round" stroke-linecap="round"/>
<path d="M263.1 181.3 L269.6 186.2 L268.0 199.2" stroke="#9a9716" stroke-width="3.3" fill="none" stroke-linejoin="round" stroke-linecap="round"/>
<path d="M269.6 186.2 L282.7 182.9 L287.6 187.8" stroke="#9a9716" stroke-width="3.3" fill="none" stroke-linejoin="round" stroke-linecap="round"/>
<path d="M255.0 180.0 L262.0 181.0" stroke="#9a9716" stroke-width="3.3" fill="none" stroke-linejoin="round" stroke-linecap="round"/>
<path d="M146.9 282.7 L163.1 279.2 L175.8 278.1 L180.4 287.3 L193.1 287.3 L200.0 279.2" stroke="#9a9716" stroke-width="3.3" fill="none" stroke-linejoin="round" stroke-linecap="round"/>
<path d="M180.4 287.3 L174.6 294.2 L142.3 293.1" stroke="#9a9716" stroke-width="3.3" fill="none" stroke-linejoin="round" stroke-linecap="round"/>
<path d="M180.4 289.6 L186.2 294.2 L190.8 303.5" stroke="#9a9716" stroke-width="3.3" fill="none" stroke-linejoin="round" stroke-linecap="round"/>
<path d="M200.0 279.2 L212.5 279.5" stroke="#9a9716" stroke-width="3.3" fill="none" stroke-linejoin="round" stroke-linecap="round"/>
<path d="M190.8 256.2 L190.8 260.8 L180.4 259.6 L179.2 265.4 L178.1 270.0" stroke="#aaa454" stroke-width="2.6" fill="none" stroke-linejoin="round" stroke-linecap="round"/>
<path d="M153.8 240.0 L163.1 243.5 L168.0 240.0" stroke="#aaa454" stroke-width="2.6" fill="none" stroke-linejoin="round" stroke-linecap="round"/>
<path d="M163.1 243.5 L161.9 248.0" stroke="#aaa454" stroke-width="2.6" fill="none" stroke-linejoin="round" stroke-linecap="round"/>
<path d="M212.5 279.5 L234.0 276.1" stroke="#aaa454" stroke-width="2.6" fill="none" stroke-linejoin="round" stroke-linecap="round"/>
<path d="M281.5 190.0 L289.0 186.5 L296.5 190.0 L297.0 200.0 L290.0 208.5 L282.0 205.0 L281.5 190.0" stroke="#8e8818" stroke-width="3" fill="none" stroke-linejoin="round" stroke-linecap="round"/>
<path d="M200.0 279.0 L210.0 278.0 L215.0 286.0 L210.0 294.0 L200.0 294.5 L195.0 287.0 L200.0 279.0" stroke="#9a9716" stroke-width="2.8" fill="none" stroke-linejoin="round" stroke-linecap="round"/>
<path d="M178.0 206.0 L182.0 205.5" stroke="#e8404a" stroke-width="2.8" fill="none" stroke-linejoin="round" stroke-linecap="round"/>
<path d="M168.0 240.0 L171.2 237.7" stroke="#e8404a" stroke-width="2.8" fill="none" stroke-linejoin="round" stroke-linecap="round"/>
<path d="M161.9 248.0 L161.9 251.5" stroke="#e8404a" stroke-width="2.8" fill="none" stroke-linejoin="round" stroke-linecap="round"/>
<path d="M178.1 270.0 L182.7 268.8" stroke="#e8404a" stroke-width="2.8" fill="none" stroke-linejoin="round" stroke-linecap="round"/>
<path d="M178.1 270.0 L171.2 275.8" stroke="#e8404a" stroke-width="2.8" fill="none" stroke-linejoin="round" stroke-linecap="round"/>
<path d="M197.7 233.5 L190.0 229.6" stroke="#e8404a" stroke-width="2.8" fill="none" stroke-linejoin="round" stroke-linecap="round"/>
<path d="M173.5 213.0 L173.5 218.4" stroke="#2020e8" stroke-width="2.8" fill="none" stroke-linejoin="round" stroke-linecap="round"/>
<path d="M198.5 232.0 L197.7 237.0" stroke="#2020e8" stroke-width="2.8" fill="none" stroke-linejoin="round" stroke-linecap="round"/>
<path d="M201.5 247.5 L207.1 249.9" stroke="#2020e8" stroke-width="2.8" fill="none" stroke-linejoin="round" stroke-linecap="round"/>
<path d="M200.8 249.5 L197.7 257.3" stroke="#2020e8" stroke-width="2.8" fill="none" stroke-linejoin="round" stroke-linecap="round"/>
<path d="M145.8 282.0 L152.0 280.5" stroke="#2020e8" stroke-width="2.8" fill="none" stroke-linejoin="round" stroke-linecap="round"/>
<path d="M148.0 220.0 L145.0 216.0" stroke="#2020e8" stroke-width="2.8" fill="none" stroke-linejoin="round" stroke-linecap="round"/>
<path d="M221.5 180.5 L227.3 181.0" stroke="#2020e8" stroke-width="2.8" fill="none" stroke-linejoin="round" stroke-linecap="round"/>
<path d="M233.0 181.5 L235.0 182.5" stroke="#8a1010" stroke-width="2.8" fill="none" stroke-linejoin="round" stroke-linecap="round"/>
<path d="M146.0 281.0 L150.0 279.0 L154.0 281.0" stroke="#2020e8" stroke-width="2.6" fill="none" stroke-linejoin="round" stroke-linecap="round"/>
<path d="M248.0 180.0 L250.0 188.0" stroke="#222" stroke-width="2.6" fill="none" stroke-linejoin="round" stroke-linecap="round"/>
<path d="M141.0 286.0 L144.0 286.0" stroke="#111" stroke-width="2.6" fill="none" stroke-linejoin="round" stroke-linecap="round"/>
<path d="M285.3 187.5 L291.6 186.5 L297.0 199.2 L291.6 208.7 L285.3 207.6 L282.1 194.9 L285.3 187.5" stroke="#8e8818" stroke-width="3" fill="none" stroke-linejoin="round" stroke-linecap="round"/>
<path d="M285.3 187.5 L285.3 180.1 L280.0 180.1" stroke="#8e8818" stroke-width="3" fill="none" stroke-linejoin="round" stroke-linecap="round"/>
<path d="M310.7 180.1 L318.1 180.1 L320.2 189.6 L316.0 201.3 L308.6 201.3 L306.5 190.7 L310.7 180.1" stroke="#e81ee8" stroke-width="3.1" fill="none" stroke-linejoin="round" stroke-linecap="round"/>
<path d="M316.0 201.3 L317.0 206.6 L316.0 215.0 L312.8 221.4 L307.5 220.3 L306.5 210.8 L308.6 201.3" stroke="#e81ee8" stroke-width="3.1" fill="none" stroke-linejoin="round" stroke-linecap="round"/>
<path d="M317.0 205.0 L316.5 214.5" stroke="#2020e8" stroke-width="3.1" fill="none" stroke-linejoin="round" stroke-linecap="round"/>
<path d="M306.5 210.8 L300.1 212.9 L298.0 223.5 L302.2 228.8 L307.5 220.3" stroke="#e81ee8" stroke-width="3.1" fill="none" stroke-linejoin="round" stroke-linecap="round"/>
<path d="M303.0 212.0 L299.5 214.0" stroke="#2020e8" stroke-width="3" fill="none" stroke-linejoin="round" stroke-linecap="round"/>
<path d="M299.5 226.0 L303.0 228.5" stroke="#2020e8" stroke-width="3" fill="none" stroke-linejoin="round" stroke-linecap="round"/>
<path d="M313.9 221.4 L314.9 229.9" stroke="#2020e8" stroke-width="3" fill="none" stroke-linejoin="round" stroke-linecap="round"/>
<path d="M298.0 223.5 L290.6 228.8 L286.0 231.0" stroke="#e81ee8" stroke-width="3" fill="none" stroke-linejoin="round" stroke-linecap="round"/>
<path d="M286.0 231.0 L280.0 232.5" stroke="#f07080" stroke-width="3" fill="none" stroke-linejoin="round" stroke-linecap="round"/>
<path d="M280.0 232.5 L275.0 226.5 L262.7 227.3" stroke="#e81ee8" stroke-width="3" fill="none" stroke-linejoin="round" stroke-linecap="round"/>
<path d="M318.0 224.0 L324.0 226.0 L330.8 218.0" stroke="#dccc80" stroke-width="2.6" fill="none" stroke-linejoin="round" stroke-linecap="round"/>
<path d="M324.0 226.0 L326.0 232.0" stroke="#dccc80" stroke-width="2.6" fill="none" stroke-linejoin="round" stroke-linecap="round"/>
<path d="M327.0 221.5 L331.0 217.0" stroke="#f08888" stroke-width="2.6" fill="none" stroke-linejoin="round" stroke-linecap="round"/>
<path d="M326.0 232.0 L327.0 236.0" stroke="#f08888" stroke-width="2.4" fill="none" stroke-linejoin="round" stroke-linecap="round"/>
<path d="M292.0 180.0 L300.0 180.5" stroke="#f4c0c0" stroke-width="2.4" fill="none" stroke-linejoin="round" stroke-linecap="round"/>
<path d="M270.4 257.3C272.4 256.5 278.6 253.7 282.7 252.7C286.8 251.7 290.9 250.9 295.0 251.2C299.1 251.4 303.2 252.4 307.3 254.2C311.4 256.0 316.3 259.6 319.6 261.9C322.9 264.2 324.9 266.1 327.3 268.1C329.7 270.2 332.9 273.2 334.0 274.2" stroke="#28307e" stroke-width="3" fill="none" stroke-linecap="round" stroke-linejoin="round"/>
<path d="M231.3 269.4C232.9 269.4 237.7 270.5 240.8 269.4C244.0 268.3 247.7 263.3 250.2 262.7C252.7 262.1 254.2 265.1 256.0 266.0C257.8 266.9 260.2 267.7 261.0 268.0" stroke="#ee1010" stroke-width="3.4" fill="none" stroke-linecap="round" stroke-linejoin="round"/>
<path d="M261.0 268.0C261.8 267.0 264.4 263.8 266.0 262.0C267.6 260.2 269.7 258.1 270.4 257.3" stroke="#ee1010" stroke-width="3.2" fill="none" stroke-linecap="round" stroke-linejoin="round"/>
<path d="M240.8 269.4 L241.4 278.8" stroke="#ee1010" stroke-width="3.4" fill="none" stroke-linejoin="round" stroke-linecap="round"/>
<path d="M261.2 269.6C261.2 271.4 260.7 276.8 261.2 280.4C261.7 284.0 263.7 289.4 264.2 291.2" stroke="#28307e" stroke-width="3" fill="none" stroke-linecap="round" stroke-linejoin="round"/>
<path d="M261.2 268.0 L261.4 282.0" stroke="#ee1010" stroke-width="3" fill="none" stroke-linejoin="round" stroke-linecap="round"/>
<path d="M263.5 276.0C263.8 275.5 264.8 273.4 265.5 273.0C266.2 272.6 267.1 273.0 267.5 273.5C267.9 274.0 267.9 275.6 268.0 276.0" stroke="#1a2060" stroke-width="2.2" fill="none" stroke-linecap="round" stroke-linejoin="round"/>
<path d="M302.7 264.0C302.4 266.0 302.0 271.8 301.2 275.8C300.4 279.8 298.6 286.1 298.1 288.1" stroke="#151a40" stroke-width="3" fill="none" stroke-linecap="round" stroke-linejoin="round"/>
<path d="M288.8 277.3 L292.0 280.0" stroke="#2020e8" stroke-width="2.4" fill="none" stroke-linejoin="round" stroke-linecap="round"/>
<path d="M292.0 280.0 L296.5 283.5" stroke="#b0a858" stroke-width="2.4" fill="none" stroke-linejoin="round" stroke-linecap="round"/>
<path d="M298.0 285.0 L304.2 289.6" stroke="#f07070" stroke-width="2.4" fill="none" stroke-linejoin="round" stroke-linecap="round"/>
<path d="M332.0 300.0 L333.0 298.0" stroke="#28307e" stroke-width="2.4" fill="none" stroke-linejoin="round" stroke-linecap="round"/>
</g>
<g font-weight="bold" font-size="10"><text x="196.6" y="270.1" fill="#52448a" letter-spacing="0.5">R375</text><text x="229.8" y="295.7" fill="#e8141c" letter-spacing="0.4">G572D</text></g>
<rect x="197" y="271.4" width="25.6" height="1.1" fill="#6a5c98"/>
<rect x="230.2" y="297" width="33.4" height="1.2" fill="#e8141c"/>
<text x="287.6" y="243.3" font-weight="bold" font-size="10" fill="#e81ee8" letter-spacing="0.35">Agonist</text></g>
<rect x="141.2" y="50.5" width="191.6" height="101.3" fill="none" stroke="#1a1a1a" stroke-width="1.6"/>
<rect x="141.2" y="179" width="191.6" height="124.2" fill="none" stroke="#1a1a1a" stroke-width="1.6"/>
<rect x="73.20" y="491.23" width="6.5" height="16.47" fill="#9fb7a4"/>
<rect x="83.20" y="483.91" width="6.5" height="23.79" fill="#d48a7b"/>
<rect x="93.20" y="487.57" width="6.5" height="20.13" fill="#8f99c6"/>
<rect x="103.20" y="487.20" width="6.5" height="20.50" fill="#b8d59c"/>
<rect x="113.20" y="489.40" width="6.5" height="18.30" fill="#9b85b0"/>
<rect x="123.20" y="493.06" width="6.5" height="14.64" fill="#f4cb90"/>
<rect x="139.80" y="494.89" width="6.5" height="12.81" fill="#9fb7a4"/>
<rect x="149.80" y="493.06" width="6.5" height="14.64" fill="#d48a7b"/>
<rect x="159.80" y="450.97" width="6.5" height="56.73" fill="#8f99c6"/>
<rect x="169.80" y="440.90" width="6.5" height="66.80" fill="#b8d59c"/>
<rect x="179.80" y="448.22" width="6.5" height="59.48" fill="#9b85b0"/>
<rect x="189.80" y="494.89" width="6.5" height="12.81" fill="#f4cb90"/>
<rect x="206.40" y="493.97" width="6.5" height="13.73" fill="#9fb7a4"/>
<rect x="216.40" y="487.57" width="6.5" height="20.13" fill="#d48a7b"/>
<rect x="226.40" y="436.33" width="6.5" height="71.37" fill="#8f99c6"/>
<rect x="236.40" y="423.52" width="6.5" height="84.18" fill="#b8d59c"/>
<rect x="246.40" y="441.82" width="6.5" height="65.88" fill="#9b85b0"/>
<rect x="256.40" y="494.89" width="6.5" height="12.81" fill="#f4cb90"/>
<rect x="273.00" y="494.52" width="6.5" height="13.18" fill="#9fb7a4"/>
<rect x="283.00" y="457.01" width="6.5" height="50.69" fill="#d48a7b"/>
<rect x="293.00" y="429.92" width="6.5" height="77.78" fill="#8f99c6"/>
<rect x="303.00" y="416.38" width="6.5" height="91.32" fill="#b8d59c"/>
<rect x="313.00" y="434.13" width="6.5" height="73.57" fill="#9b85b0"/>
<rect x="323.00" y="494.89" width="6.5" height="12.81" fill="#f4cb90"/>
<rect x="339.60" y="496.17" width="6.5" height="11.53" fill="#9fb7a4"/>
<rect x="349.60" y="426.81" width="6.5" height="80.89" fill="#d48a7b"/>
<rect x="359.60" y="431.94" width="6.5" height="75.76" fill="#8f99c6"/>
<rect x="369.60" y="418.76" width="6.5" height="88.94" fill="#b8d59c"/>
<rect x="379.60" y="432.49" width="6.5" height="75.21" fill="#9b85b0"/>
<rect x="389.60" y="493.06" width="6.5" height="14.64" fill="#f4cb90"/>
<path d="M76.45 487.57V496.54M74.85 487.57H78.05M74.85 496.54H78.05" stroke="#111" stroke-width="1.4" fill="none"/>
<circle cx="76.45" cy="504.59" r="2.20" fill="#2b6a4c"/>
<circle cx="75.85" cy="490.50" r="2.20" fill="#2b6a4c"/>
<circle cx="77.05" cy="489.77" r="2.20" fill="#2b6a4c"/>
<circle cx="76.15" cy="489.03" r="2.20" fill="#2b6a4c"/>
<circle cx="76.75" cy="488.30" r="2.20" fill="#2b6a4c"/>
<circle cx="76.45" cy="487.57" r="2.20" fill="#2b6a4c"/>
<path d="M86.45 480.25V487.57M84.85 480.25H88.05M84.85 487.57H88.05" stroke="#111" stroke-width="1.4" fill="none"/>
<rect x="84.25" y="485.37" width="4.40" height="4.40" fill="#b2002e"/>
<rect x="83.65" y="483.91" width="4.40" height="4.40" fill="#b2002e"/>
<rect x="84.85" y="482.44" width="4.40" height="4.40" fill="#b2002e"/>
<rect x="83.95" y="480.98" width="4.40" height="4.40" fill="#b2002e"/>
<rect x="84.55" y="479.51" width="4.40" height="4.40" fill="#b2002e"/>
<rect x="84.25" y="478.05" width="4.40" height="4.40" fill="#b2002e"/>
<rect x="83.65" y="476.59" width="4.40" height="4.40" fill="#b2002e"/>
<rect x="84.85" y="475.12" width="4.40" height="4.40" fill="#b2002e"/>
<path d="M96.45 483.91V491.23M94.85 483.91H98.05M94.85 491.23H98.05" stroke="#111" stroke-width="1.4" fill="none"/>
<path d="M96.45 489.14L98.98 493.76L93.92 493.76Z" fill="#2a4c91"/>
<path d="M95.85 487.86L98.38 492.48L93.32 492.48Z" fill="#2a4c91"/>
<path d="M97.05 486.58L99.58 491.20L94.52 491.20Z" fill="#2a4c91"/>
<path d="M96.15 485.30L98.68 489.92L93.62 489.92Z" fill="#2a4c91"/>
<path d="M96.75 484.01L99.28 488.63L94.22 488.63Z" fill="#2a4c91"/>
<path d="M96.45 482.73L98.98 487.35L93.92 487.35Z" fill="#2a4c91"/>
<path d="M95.85 481.45L98.38 486.07L93.32 486.07Z" fill="#2a4c91"/>
<path d="M97.05 480.54L99.58 485.16L94.52 485.16Z" fill="#2a4c91"/>
<path d="M106.45 484.28V489.77M104.85 484.28H108.05M104.85 489.77H108.05" stroke="#111" stroke-width="1.4" fill="none"/>
<path d="M106.45 492.77L108.98 488.15L103.92 488.15Z" fill="#66ad36"/>
<path d="M105.85 491.67L108.38 487.05L103.32 487.05Z" fill="#66ad36"/>
<path d="M107.05 490.58L109.58 485.96L104.52 485.96Z" fill="#66ad36"/>
<path d="M106.15 489.48L108.68 484.86L103.62 484.86Z" fill="#66ad36"/>
<path d="M106.75 488.38L109.28 483.76L104.22 483.76Z" fill="#66ad36"/>
<path d="M106.45 487.28L108.98 482.66L103.92 482.66Z" fill="#66ad36"/>
<path d="M105.85 486.37L108.38 481.75L103.32 481.75Z" fill="#66ad36"/>
<path d="M116.45 485.74V493.06M114.85 485.74H118.05M114.85 493.06H118.05" stroke="#111" stroke-width="1.4" fill="none"/>
<path d="M116.45 491.59L118.87 494.34L116.45 497.09L114.03 494.34Z" fill="#4e2075"/>
<path d="M115.85 490.31L118.27 493.06L115.85 495.81L113.43 493.06Z" fill="#4e2075"/>
<path d="M117.05 488.85L119.47 491.60L117.05 494.35L114.63 491.60Z" fill="#4e2075"/>
<path d="M116.15 487.38L118.57 490.13L116.15 492.88L113.73 490.13Z" fill="#4e2075"/>
<path d="M116.75 485.92L119.17 488.67L116.75 491.42L114.33 488.67Z" fill="#4e2075"/>
<path d="M116.45 484.45L118.87 487.20L116.45 489.95L114.03 487.20Z" fill="#4e2075"/>
<path d="M115.85 482.99L118.27 485.74L115.85 488.49L113.43 485.74Z" fill="#4e2075"/>
<path d="M117.05 481.71L119.47 484.46L117.05 487.21L114.63 484.46Z" fill="#4e2075"/>
<path d="M126.45 490.86V495.26M124.85 490.86H128.05M124.85 495.26H128.05" stroke="#111" stroke-width="1.4" fill="none"/>
<circle cx="126.45" cy="495.44" r="2.20" fill="#e8921c"/>
<circle cx="125.85" cy="494.52" r="2.20" fill="#e8921c"/>
<circle cx="127.05" cy="493.61" r="2.20" fill="#e8921c"/>
<circle cx="126.15" cy="492.69" r="2.20" fill="#e8921c"/>
<circle cx="126.75" cy="491.78" r="2.20" fill="#e8921c"/>
<circle cx="126.45" cy="490.86" r="2.20" fill="#e8921c"/>
<circle cx="125.85" cy="489.95" r="2.20" fill="#e8921c"/>
<path d="M143.05 491.23V496.72M141.45 491.23H144.65M141.45 496.72H144.65" stroke="#111" stroke-width="1.4" fill="none"/>
<circle cx="143.05" cy="496.72" r="2.20" fill="#2b6a4c"/>
<circle cx="142.45" cy="494.89" r="2.20" fill="#2b6a4c"/>
<circle cx="143.65" cy="493.06" r="2.20" fill="#2b6a4c"/>
<circle cx="142.75" cy="491.23" r="2.20" fill="#2b6a4c"/>
<circle cx="143.35" cy="489.40" r="2.20" fill="#2b6a4c"/>
<circle cx="143.05" cy="487.57" r="2.20" fill="#2b6a4c"/>
<path d="M153.05 487.57V495.81M151.45 487.57H154.65M151.45 495.81H154.65" stroke="#111" stroke-width="1.4" fill="none"/>
<rect x="150.85" y="489.03" width="4.40" height="4.40" fill="#b2002e"/>
<rect x="150.25" y="488.12" width="4.40" height="4.40" fill="#b2002e"/>
<rect x="151.45" y="486.29" width="4.40" height="4.40" fill="#b2002e"/>
<rect x="150.55" y="484.45" width="4.40" height="4.40" fill="#b2002e"/>
<rect x="151.15" y="479.88" width="4.40" height="4.40" fill="#b2002e"/>
<path d="M163.05 434.50V469.27M161.45 434.50H164.65M161.45 469.27H164.65" stroke="#111" stroke-width="1.4" fill="none"/>
<path d="M163.05 465.72L165.58 470.34L160.52 470.34Z" fill="#2a4c91"/>
<path d="M162.45 462.06L164.98 466.68L159.92 466.68Z" fill="#2a4c91"/>
<path d="M163.65 458.39L166.18 463.01L161.12 463.01Z" fill="#2a4c91"/>
<path d="M162.75 453.82L165.28 458.44L160.22 458.44Z" fill="#2a4c91"/>
<path d="M163.35 429.12L165.88 433.74L160.82 433.74Z" fill="#2a4c91"/>
<path d="M163.05 422.16L165.58 426.78L160.52 426.78Z" fill="#2a4c91"/>
<path d="M173.05 426.26V455.54M171.45 426.26H174.65M171.45 455.54H174.65" stroke="#111" stroke-width="1.4" fill="none"/>
<path d="M173.05 457.27L175.58 452.65L170.52 452.65Z" fill="#66ad36"/>
<path d="M172.45 453.61L174.98 448.99L169.92 448.99Z" fill="#66ad36"/>
<path d="M173.65 449.95L176.18 445.33L171.12 445.33Z" fill="#66ad36"/>
<path d="M172.75 446.29L175.28 441.67L170.22 441.67Z" fill="#66ad36"/>
<path d="M173.35 443.73L175.88 439.11L170.82 439.11Z" fill="#66ad36"/>
<path d="M173.05 427.07L175.58 422.45L170.52 422.45Z" fill="#66ad36"/>
<path d="M172.45 424.33L174.98 419.71L169.92 419.71Z" fill="#66ad36"/>
<path d="M173.65 421.40L176.18 416.78L171.12 416.78Z" fill="#66ad36"/>
<path d="M183.05 421.69V473.84M181.45 421.69H184.65M181.45 473.84H184.65" stroke="#111" stroke-width="1.4" fill="none"/>
<path d="M183.05 477.13L185.47 479.88L183.05 482.63L180.63 479.88Z" fill="#4e2075"/>
<path d="M182.45 470.55L184.87 473.30L182.45 476.05L180.03 473.30Z" fill="#4e2075"/>
<path d="M183.65 458.28L186.07 461.03L183.65 463.78L181.23 461.03Z" fill="#4e2075"/>
<path d="M182.75 448.95L185.17 451.70L182.75 454.45L180.33 451.70Z" fill="#4e2075"/>
<path d="M183.35 415.10L185.77 417.85L183.35 420.60L180.93 417.85Z" fill="#4e2075"/>
<path d="M183.05 411.99L185.47 414.74L183.05 417.49L180.63 414.74Z" fill="#4e2075"/>
<path d="M182.45 406.68L184.87 409.43L182.45 412.18L180.03 409.43Z" fill="#4e2075"/>
<path d="M193.05 492.14V497.63M191.45 492.14H194.65M191.45 497.63H194.65" stroke="#111" stroke-width="1.4" fill="none"/>
<circle cx="193.05" cy="496.72" r="2.20" fill="#e8921c"/>
<circle cx="192.45" cy="494.89" r="2.20" fill="#e8921c"/>
<circle cx="193.65" cy="493.06" r="2.20" fill="#e8921c"/>
<circle cx="192.75" cy="491.23" r="2.20" fill="#e8921c"/>
<circle cx="193.35" cy="489.40" r="2.20" fill="#e8921c"/>
<path d="M209.65 491.23V496.72M208.05 491.23H211.25M208.05 496.72H211.25" stroke="#111" stroke-width="1.4" fill="none"/>
<circle cx="209.65" cy="496.72" r="2.20" fill="#2b6a4c"/>
<circle cx="209.05" cy="494.89" r="2.20" fill="#2b6a4c"/>
<circle cx="210.25" cy="493.06" r="2.20" fill="#2b6a4c"/>
<circle cx="209.35" cy="491.23" r="2.20" fill="#2b6a4c"/>
<circle cx="209.95" cy="489.40" r="2.20" fill="#2b6a4c"/>
<path d="M219.65 480.25V492.14M218.05 480.25H221.25M218.05 492.14H221.25" stroke="#111" stroke-width="1.4" fill="none"/>
<rect x="217.45" y="487.20" width="4.40" height="4.40" fill="#b2002e"/>
<rect x="216.85" y="485.37" width="4.40" height="4.40" fill="#b2002e"/>
<rect x="218.05" y="483.54" width="4.40" height="4.40" fill="#b2002e"/>
<rect x="217.15" y="480.80" width="4.40" height="4.40" fill="#b2002e"/>
<rect x="217.75" y="476.22" width="4.40" height="4.40" fill="#b2002e"/>
<rect x="217.45" y="473.48" width="4.40" height="4.40" fill="#b2002e"/>
<rect x="216.85" y="471.64" width="4.40" height="4.40" fill="#b2002e"/>
<path d="M229.65 412.54V459.39M228.05 412.54H231.25M228.05 459.39H231.25" stroke="#111" stroke-width="1.4" fill="none"/>
<path d="M229.65 455.65L232.18 460.27L227.12 460.27Z" fill="#2a4c91"/>
<path d="M229.05 452.90L231.58 457.52L226.52 457.52Z" fill="#2a4c91"/>
<path d="M230.25 450.16L232.78 454.78L227.72 454.78Z" fill="#2a4c91"/>
<path d="M229.35 447.42L231.88 452.04L226.82 452.04Z" fill="#2a4c91"/>
<path d="M229.95 444.67L232.48 449.29L227.42 449.29Z" fill="#2a4c91"/>
<path d="M229.65 408.99L232.18 413.61L227.12 413.61Z" fill="#2a4c91"/>
<path d="M229.05 398.92L231.58 403.54L226.52 403.54Z" fill="#2a4c91"/>
<path d="M239.65 409.43V435.60M238.05 409.43H241.25M238.05 435.60H241.25" stroke="#111" stroke-width="1.4" fill="none"/>
<path d="M239.65 442.63L242.18 438.01L237.12 438.01Z" fill="#66ad36"/>
<path d="M239.05 438.97L241.58 434.35L236.52 434.35Z" fill="#66ad36"/>
<path d="M240.25 435.31L242.78 430.69L237.72 430.69Z" fill="#66ad36"/>
<path d="M239.35 426.16L241.88 421.54L236.82 421.54Z" fill="#66ad36"/>
<path d="M239.95 422.50L242.48 417.88L237.42 417.88Z" fill="#66ad36"/>
<path d="M239.65 417.01L242.18 412.39L237.12 412.39Z" fill="#66ad36"/>
<path d="M239.05 413.35L241.58 408.73L236.52 408.73Z" fill="#66ad36"/>
<path d="M240.25 409.69L242.78 405.07L237.72 405.07Z" fill="#66ad36"/>
<path d="M239.35 407.86L241.88 403.24L236.82 403.24Z" fill="#66ad36"/>
<path d="M249.65 412.54V466.16M248.05 412.54H251.25M248.05 466.16H251.25" stroke="#111" stroke-width="1.4" fill="none"/>
<path d="M249.65 464.69L252.07 467.44L249.65 470.19L247.23 467.44Z" fill="#4e2075"/>
<path d="M249.05 461.94L251.47 464.69L249.05 467.44L246.63 464.69Z" fill="#4e2075"/>
<path d="M250.25 453.71L252.67 456.46L250.25 459.21L247.83 456.46Z" fill="#4e2075"/>
<path d="M249.35 448.22L251.77 450.97L249.35 453.72L246.93 450.97Z" fill="#4e2075"/>
<path d="M249.95 440.90L252.37 443.65L249.95 446.40L247.53 443.65Z" fill="#4e2075"/>
<path d="M249.65 406.13L252.07 408.88L249.65 411.63L247.23 408.88Z" fill="#4e2075"/>
<path d="M249.05 402.47L251.47 405.22L249.05 407.97L246.63 405.22Z" fill="#4e2075"/>
<path d="M250.25 396.98L252.67 399.73L250.25 402.48L247.83 399.73Z" fill="#4e2075"/>
<path d="M259.65 492.14V496.72M258.05 492.14H261.25M258.05 496.72H261.25" stroke="#111" stroke-width="1.4" fill="none"/>
<circle cx="259.65" cy="496.72" r="2.20" fill="#e8921c"/>
<circle cx="259.05" cy="494.89" r="2.20" fill="#e8921c"/>
<circle cx="260.25" cy="493.06" r="2.20" fill="#e8921c"/>
<circle cx="259.35" cy="491.23" r="2.20" fill="#e8921c"/>
<circle cx="259.95" cy="490.31" r="2.20" fill="#e8921c"/>
<path d="M276.25 491.23V496.72M274.65 491.23H277.85M274.65 496.72H277.85" stroke="#111" stroke-width="1.4" fill="none"/>
<circle cx="276.25" cy="496.72" r="2.20" fill="#2b6a4c"/>
<circle cx="275.65" cy="494.89" r="2.20" fill="#2b6a4c"/>
<circle cx="276.85" cy="493.06" r="2.20" fill="#2b6a4c"/>
<circle cx="275.95" cy="491.23" r="2.20" fill="#2b6a4c"/>
<circle cx="276.55" cy="489.40" r="2.20" fill="#2b6a4c"/>
<circle cx="276.25" cy="488.85" r="2.20" fill="#2b6a4c"/>
<path d="M286.25 450.97V461.95M284.65 450.97H287.85M284.65 461.95H287.85" stroke="#111" stroke-width="1.4" fill="none"/>
<rect x="284.05" y="461.58" width="4.40" height="4.40" fill="#b2002e"/>
<rect x="283.45" y="459.75" width="4.40" height="4.40" fill="#b2002e"/>
<rect x="284.65" y="457.92" width="4.40" height="4.40" fill="#b2002e"/>
<rect x="283.75" y="456.09" width="4.40" height="4.40" fill="#b2002e"/>
<rect x="284.35" y="449.32" width="4.40" height="4.40" fill="#b2002e"/>
<rect x="284.05" y="444.56" width="4.40" height="4.40" fill="#b2002e"/>
<rect x="283.45" y="435.05" width="4.40" height="4.40" fill="#b2002e"/>
<path d="M296.25 397.35V460.67M294.65 397.35H297.85M294.65 460.67H297.85" stroke="#111" stroke-width="1.4" fill="none"/>
<path d="M296.25 451.99L298.78 456.61L293.72 456.61Z" fill="#2a4c91"/>
<path d="M295.65 450.16L298.18 454.78L293.12 454.78Z" fill="#2a4c91"/>
<path d="M296.85 446.50L299.38 451.12L294.32 451.12Z" fill="#2a4c91"/>
<path d="M295.95 442.84L298.48 447.46L293.42 447.46Z" fill="#2a4c91"/>
<path d="M296.55 437.35L299.08 441.97L294.02 441.97Z" fill="#2a4c91"/>
<path d="M296.25 395.26L298.78 399.88L293.72 399.88Z" fill="#2a4c91"/>
<path d="M295.65 386.11L298.18 390.73L293.12 390.73Z" fill="#2a4c91"/>
<path d="M296.85 380.25L299.38 384.87L294.32 384.87Z" fill="#2a4c91"/>
<path d="M306.25 399.00V433.95M304.65 399.00H307.85M304.65 433.95H307.85" stroke="#111" stroke-width="1.4" fill="none"/>
<path d="M306.25 443.73L308.78 439.11L303.72 439.11Z" fill="#66ad36"/>
<path d="M305.65 437.14L308.18 432.52L303.12 432.52Z" fill="#66ad36"/>
<path d="M306.85 431.65L309.38 427.03L304.32 427.03Z" fill="#66ad36"/>
<path d="M305.95 424.33L308.48 419.71L303.42 419.71Z" fill="#66ad36"/>
<path d="M306.55 418.84L309.08 414.22L304.02 414.22Z" fill="#66ad36"/>
<path d="M306.25 413.35L308.78 408.73L303.72 408.73Z" fill="#66ad36"/>
<path d="M305.65 402.37L308.18 397.75L303.12 397.75Z" fill="#66ad36"/>
<path d="M306.85 398.71L309.38 394.09L304.32 394.09Z" fill="#66ad36"/>
<path d="M305.95 395.05L308.48 390.43L303.42 390.43Z" fill="#66ad36"/>
<path d="M316.25 404.49V462.68M314.65 404.49H317.85M314.65 462.68H317.85" stroke="#111" stroke-width="1.4" fill="none"/>
<path d="M316.25 459.20L318.67 461.95L316.25 464.70L313.83 461.95Z" fill="#4e2075"/>
<path d="M315.65 453.71L318.07 456.46L315.65 459.21L313.23 456.46Z" fill="#4e2075"/>
<path d="M316.85 450.05L319.27 452.80L316.85 455.55L314.43 452.80Z" fill="#4e2075"/>
<path d="M315.95 444.56L318.37 447.31L315.95 450.06L313.53 447.31Z" fill="#4e2075"/>
<path d="M316.55 433.58L318.97 436.33L316.55 439.08L314.13 436.33Z" fill="#4e2075"/>
<path d="M316.25 400.64L318.67 403.39L316.25 406.14L313.83 403.39Z" fill="#4e2075"/>
<path d="M315.65 391.49L318.07 394.24L315.65 396.99L313.23 394.24Z" fill="#4e2075"/>
<path d="M316.85 388.75L319.27 391.50L316.85 394.25L314.43 391.50Z" fill="#4e2075"/>
<path d="M326.25 492.14V496.72M324.65 492.14H327.85M324.65 496.72H327.85" stroke="#111" stroke-width="1.4" fill="none"/>
<circle cx="326.25" cy="496.72" r="2.20" fill="#e8921c"/>
<circle cx="325.65" cy="494.89" r="2.20" fill="#e8921c"/>
<circle cx="326.85" cy="493.06" r="2.20" fill="#e8921c"/>
<circle cx="325.95" cy="491.23" r="2.20" fill="#e8921c"/>
<circle cx="326.55" cy="490.31" r="2.20" fill="#e8921c"/>
<path d="M342.85 492.14V497.63M341.25 492.14H344.45M341.25 497.63H344.45" stroke="#111" stroke-width="1.4" fill="none"/>
<circle cx="342.85" cy="496.72" r="2.20" fill="#2b6a4c"/>
<circle cx="342.25" cy="494.89" r="2.20" fill="#2b6a4c"/>
<circle cx="343.45" cy="493.06" r="2.20" fill="#2b6a4c"/>
<circle cx="342.55" cy="491.23" r="2.20" fill="#2b6a4c"/>
<circle cx="343.15" cy="489.40" r="2.20" fill="#2b6a4c"/>
<path d="M352.85 412.54V435.41M351.25 412.54H354.45M351.25 435.41H354.45" stroke="#111" stroke-width="1.4" fill="none"/>
<rect x="350.65" y="439.07" width="4.40" height="4.40" fill="#b2002e"/>
<rect x="350.05" y="436.51" width="4.40" height="4.40" fill="#b2002e"/>
<rect x="351.25" y="434.13" width="4.40" height="4.40" fill="#b2002e"/>
<rect x="350.35" y="426.81" width="4.40" height="4.40" fill="#b2002e"/>
<rect x="350.95" y="424.06" width="4.40" height="4.40" fill="#b2002e"/>
<rect x="350.65" y="421.32" width="4.40" height="4.40" fill="#b2002e"/>
<rect x="350.05" y="407.78" width="4.40" height="4.40" fill="#b2002e"/>
<rect x="351.25" y="405.76" width="4.40" height="4.40" fill="#b2002e"/>
<rect x="350.35" y="403.94" width="4.40" height="4.40" fill="#b2002e"/>
<path d="M362.85 398.08V463.41M361.25 398.08H364.45M361.25 463.41H364.45" stroke="#111" stroke-width="1.4" fill="none"/>
<path d="M362.85 459.31L365.38 463.93L360.32 463.93Z" fill="#2a4c91"/>
<path d="M362.25 455.65L364.78 460.27L359.72 460.27Z" fill="#2a4c91"/>
<path d="M363.45 451.99L365.98 456.61L360.92 456.61Z" fill="#2a4c91"/>
<path d="M362.55 450.16L365.08 454.78L360.02 454.78Z" fill="#2a4c91"/>
<path d="M363.15 446.50L365.68 451.12L360.62 451.12Z" fill="#2a4c91"/>
<path d="M362.85 397.09L365.38 401.71L360.32 401.71Z" fill="#2a4c91"/>
<path d="M362.25 385.93L364.78 390.55L359.72 390.55Z" fill="#2a4c91"/>
<path d="M363.45 379.89L365.98 384.51L360.92 384.51Z" fill="#2a4c91"/>
<path d="M372.85 401.38V437.98M371.25 401.38H374.45M371.25 437.98H374.45" stroke="#111" stroke-width="1.4" fill="none"/>
<path d="M372.85 448.49L375.38 443.87L370.32 443.87Z" fill="#66ad36"/>
<path d="M372.25 438.97L374.78 434.35L369.72 434.35Z" fill="#66ad36"/>
<path d="M373.45 433.48L375.98 428.86L370.92 428.86Z" fill="#66ad36"/>
<path d="M372.55 427.99L375.08 423.37L370.02 423.37Z" fill="#66ad36"/>
<path d="M373.15 422.50L375.68 417.88L370.62 417.88Z" fill="#66ad36"/>
<path d="M372.85 415.18L375.38 410.56L370.32 410.56Z" fill="#66ad36"/>
<path d="M372.25 402.37L374.78 397.75L369.72 397.75Z" fill="#66ad36"/>
<path d="M373.45 398.71L375.98 394.09L370.92 394.09Z" fill="#66ad36"/>
<path d="M372.55 395.96L375.08 391.34L370.02 391.34Z" fill="#66ad36"/>
<path d="M382.85 398.08V464.15M381.25 398.08H384.45M381.25 464.15H384.45" stroke="#111" stroke-width="1.4" fill="none"/>
<path d="M382.85 457.37L385.27 460.12L382.85 462.87L380.43 460.12Z" fill="#4e2075"/>
<path d="M382.25 454.62L384.67 457.38L382.25 460.12L379.83 457.38Z" fill="#4e2075"/>
<path d="M383.45 451.88L385.87 454.63L383.45 457.38L381.03 454.63Z" fill="#4e2075"/>
<path d="M382.55 444.56L384.97 447.31L382.55 450.06L380.13 447.31Z" fill="#4e2075"/>
<path d="M383.15 409.79L385.57 412.54L383.15 415.29L380.73 412.54Z" fill="#4e2075"/>
<path d="M382.85 404.30L385.27 407.05L382.85 409.80L380.43 407.05Z" fill="#4e2075"/>
<path d="M382.25 395.15L384.67 397.90L382.25 400.65L379.83 397.90Z" fill="#4e2075"/>
<path d="M383.45 374.65L385.87 377.40L383.45 380.15L381.03 377.40Z" fill="#4e2075"/>
<path d="M392.85 489.40V496.72M391.25 489.40H394.45M391.25 496.72H394.45" stroke="#111" stroke-width="1.4" fill="none"/>
<circle cx="392.85" cy="497.63" r="2.20" fill="#e8921c"/>
<circle cx="392.25" cy="495.81" r="2.20" fill="#e8921c"/>
<circle cx="393.45" cy="493.97" r="2.20" fill="#e8921c"/>
<circle cx="392.55" cy="491.23" r="2.20" fill="#e8921c"/>
<circle cx="393.15" cy="489.40" r="2.20" fill="#e8921c"/>
<path d="M70 356.5V507.7M65.2 507.7H401" stroke="#000" stroke-width="1.5" fill="none"/>
<path d="M65.2 471.10H70" stroke="#000" stroke-width="1.5"/>
<path d="M65.2 434.50H70" stroke="#000" stroke-width="1.5"/>
<path d="M65.2 397.90H70" stroke="#000" stroke-width="1.5"/>
<path d="M65.2 361.30H70" stroke="#000" stroke-width="1.5"/>
<text x="60.2" y="511.20" text-anchor="end" font-size="13">0</text>
<text x="60.2" y="474.60" text-anchor="end" font-size="13">2</text>
<text x="60.2" y="438.00" text-anchor="end" font-size="13">4</text>
<text x="60.2" y="401.40" text-anchor="end" font-size="13">6</text>
<text x="60.2" y="364.80" text-anchor="end" font-size="13">8</text>
<path d="M101.20 507.7V513.2" stroke="#000" stroke-width="1.5"/>
<path d="M167.80 507.7V513.2" stroke="#000" stroke-width="1.5"/>
<path d="M234.40 507.7V513.2" stroke="#000" stroke-width="1.5"/>
<path d="M301.00 507.7V513.2" stroke="#000" stroke-width="1.5"/>
<path d="M367.60 507.7V513.2" stroke="#000" stroke-width="1.5"/>
<rect x="73.30" y="789.20" width="6.4" height="12.70" fill="#9fb7a4"/>
<rect x="83.36" y="785.14" width="6.4" height="16.76" fill="#d48a7b"/>
<rect x="93.42" y="784.26" width="6.4" height="17.64" fill="#8f99c6"/>
<rect x="103.48" y="785.14" width="6.4" height="16.76" fill="#b8d59c"/>
<rect x="113.54" y="780.38" width="6.4" height="21.52" fill="#9b85b0"/>
<rect x="123.60" y="789.20" width="6.4" height="12.70" fill="#f4cb90"/>
<rect x="140.30" y="789.20" width="6.4" height="12.70" fill="#9fb7a4"/>
<rect x="150.36" y="786.91" width="6.4" height="14.99" fill="#d48a7b"/>
<rect x="160.42" y="780.91" width="6.4" height="20.99" fill="#8f99c6"/>
<rect x="170.48" y="776.85" width="6.4" height="25.05" fill="#b8d59c"/>
<rect x="180.54" y="768.03" width="6.4" height="33.87" fill="#9b85b0"/>
<rect x="190.60" y="788.14" width="6.4" height="13.76" fill="#f4cb90"/>
<rect x="207.30" y="789.55" width="6.4" height="12.35" fill="#9fb7a4"/>
<rect x="217.36" y="786.02" width="6.4" height="15.88" fill="#d48a7b"/>
<rect x="227.42" y="761.68" width="6.4" height="40.22" fill="#8f99c6"/>
<rect x="237.48" y="751.63" width="6.4" height="50.27" fill="#b8d59c"/>
<rect x="247.54" y="744.22" width="6.4" height="57.68" fill="#9b85b0"/>
<rect x="257.60" y="791.32" width="6.4" height="10.58" fill="#f4cb90"/>
<rect x="274.30" y="789.73" width="6.4" height="12.17" fill="#9fb7a4"/>
<rect x="284.36" y="756.57" width="6.4" height="45.33" fill="#d48a7b"/>
<rect x="294.42" y="724.11" width="6.4" height="77.79" fill="#8f99c6"/>
<rect x="304.48" y="716.17" width="6.4" height="85.73" fill="#b8d59c"/>
<rect x="314.54" y="732.57" width="6.4" height="69.33" fill="#9b85b0"/>
<rect x="324.60" y="789.55" width="6.4" height="12.35" fill="#f4cb90"/>
<rect x="341.30" y="789.55" width="6.4" height="12.35" fill="#9fb7a4"/>
<rect x="351.36" y="725.87" width="6.4" height="76.03" fill="#d48a7b"/>
<rect x="361.42" y="711.76" width="6.4" height="90.14" fill="#8f99c6"/>
<rect x="371.48" y="702.76" width="6.4" height="99.14" fill="#b8d59c"/>
<rect x="381.54" y="730.99" width="6.4" height="70.91" fill="#9b85b0"/>
<rect x="391.60" y="789.55" width="6.4" height="12.35" fill="#f4cb90"/>
<path d="M76.50 786.91V791.32M74.90 786.91H78.10M74.90 791.32H78.10" stroke="#2b6a4c" stroke-width="1.4" fill="none"/>
<circle cx="76.50" cy="790.96" r="2.20" fill="#2b6a4c"/>
<circle cx="75.90" cy="789.90" r="2.20" fill="#2b6a4c"/>
<circle cx="77.10" cy="788.85" r="2.20" fill="#2b6a4c"/>
<circle cx="76.20" cy="787.79" r="2.20" fill="#2b6a4c"/>
<circle cx="76.80" cy="786.73" r="2.20" fill="#2b6a4c"/>
<circle cx="76.50" cy="786.02" r="2.20" fill="#2b6a4c"/>
<path d="M86.56 782.14V788.14M84.96 782.14H88.16M84.96 788.14H88.16" stroke="#b2002e" stroke-width="1.4" fill="none"/>
<rect x="84.36" y="787.88" width="4.40" height="4.40" fill="#b2002e"/>
<rect x="83.76" y="786.47" width="4.40" height="4.40" fill="#b2002e"/>
<rect x="84.96" y="785.06" width="4.40" height="4.40" fill="#b2002e"/>
<rect x="84.06" y="783.65" width="4.40" height="4.40" fill="#b2002e"/>
<rect x="84.66" y="782.24" width="4.40" height="4.40" fill="#b2002e"/>
<rect x="84.36" y="780.83" width="4.40" height="4.40" fill="#b2002e"/>
<rect x="83.76" y="779.41" width="4.40" height="4.40" fill="#b2002e"/>
<rect x="84.96" y="778.00" width="4.40" height="4.40" fill="#b2002e"/>
<rect x="84.06" y="776.24" width="4.40" height="4.40" fill="#b2002e"/>
<path d="M96.62 779.85V787.79M95.02 779.85H98.22M95.02 787.79H98.22" stroke="#2a4c91" stroke-width="1.4" fill="none"/>
<path d="M96.62 788.32L99.15 792.94L94.09 792.94Z" fill="#2a4c91"/>
<path d="M96.02 786.03L98.55 790.65L93.49 790.65Z" fill="#2a4c91"/>
<path d="M97.22 783.74L99.75 788.36L94.69 788.36Z" fill="#2a4c91"/>
<path d="M96.32 781.44L98.85 786.06L93.79 786.06Z" fill="#2a4c91"/>
<path d="M96.92 779.15L99.45 783.77L94.39 783.77Z" fill="#2a4c91"/>
<path d="M96.62 776.86L99.15 781.48L94.09 781.48Z" fill="#2a4c91"/>
<path d="M96.02 774.56L98.55 779.18L93.49 779.18Z" fill="#2a4c91"/>
<path d="M97.22 771.92L99.75 776.54L94.69 776.54Z" fill="#2a4c91"/>
<path d="M106.68 782.50V787.44M105.08 782.50H108.28M105.08 787.44H108.28" stroke="#66ad36" stroke-width="1.4" fill="none"/>
<path d="M106.68 791.31L109.21 786.69L104.15 786.69Z" fill="#66ad36"/>
<path d="M106.08 789.55L108.61 784.93L103.55 784.93Z" fill="#66ad36"/>
<path d="M107.28 787.78L109.81 783.16L104.75 783.16Z" fill="#66ad36"/>
<path d="M106.38 786.02L108.91 781.40L103.85 781.40Z" fill="#66ad36"/>
<path d="M106.98 784.78L109.51 780.16L104.45 780.16Z" fill="#66ad36"/>
<path d="M106.68 783.37L109.21 778.75L104.15 778.75Z" fill="#66ad36"/>
<path d="M116.74 776.32V784.61M115.14 776.32H118.34M115.14 784.61H118.34" stroke="#4e2075" stroke-width="1.4" fill="none"/>
<path d="M116.74 785.04L119.16 787.79L116.74 790.54L114.32 787.79Z" fill="#4e2075"/>
<path d="M116.14 783.27L118.56 786.02L116.14 788.77L113.72 786.02Z" fill="#4e2075"/>
<path d="M117.34 781.51L119.76 784.26L117.34 787.01L114.92 784.26Z" fill="#4e2075"/>
<path d="M116.44 779.75L118.86 782.50L116.44 785.25L114.02 782.50Z" fill="#4e2075"/>
<path d="M117.04 777.98L119.46 780.73L117.04 783.48L114.62 780.73Z" fill="#4e2075"/>
<path d="M116.74 775.34L119.16 778.09L116.74 780.84L114.32 778.09Z" fill="#4e2075"/>
<path d="M116.14 772.69L118.56 775.44L116.14 778.19L113.72 775.44Z" fill="#4e2075"/>
<path d="M117.34 767.93L119.76 770.68L117.34 773.43L114.92 770.68Z" fill="#4e2075"/>
<path d="M126.80 787.08V790.96M125.20 787.08H128.40M125.20 790.96H128.40" stroke="#e8921c" stroke-width="1.4" fill="none"/>
<circle cx="126.80" cy="790.08" r="2.20" fill="#e8921c"/>
<circle cx="126.20" cy="788.85" r="2.20" fill="#e8921c"/>
<circle cx="127.40" cy="787.79" r="2.20" fill="#e8921c"/>
<circle cx="126.50" cy="786.73" r="2.20" fill="#e8921c"/>
<circle cx="127.10" cy="786.02" r="2.20" fill="#e8921c"/>
<path d="M143.50 786.91V791.32M141.90 786.91H145.10M141.90 791.32H145.10" stroke="#2b6a4c" stroke-width="1.4" fill="none"/>
<circle cx="143.50" cy="790.96" r="2.20" fill="#2b6a4c"/>
<circle cx="142.90" cy="789.55" r="2.20" fill="#2b6a4c"/>
<circle cx="144.10" cy="788.14" r="2.20" fill="#2b6a4c"/>
<circle cx="143.20" cy="786.73" r="2.20" fill="#2b6a4c"/>
<circle cx="143.80" cy="780.56" r="2.20" fill="#2b6a4c"/>
<path d="M153.56 784.26V789.55M151.96 784.26H155.16M151.96 789.55H155.16" stroke="#b2002e" stroke-width="1.4" fill="none"/>
<rect x="151.36" y="786.47" width="4.40" height="4.40" fill="#b2002e"/>
<rect x="150.76" y="785.24" width="4.40" height="4.40" fill="#b2002e"/>
<rect x="151.96" y="783.82" width="4.40" height="4.40" fill="#b2002e"/>
<rect x="151.06" y="782.41" width="4.40" height="4.40" fill="#b2002e"/>
<rect x="151.66" y="781.18" width="4.40" height="4.40" fill="#b2002e"/>
<rect x="151.36" y="779.94" width="4.40" height="4.40" fill="#b2002e"/>
<path d="M163.62 775.44V786.91M162.02 775.44H165.22M162.02 786.91H165.22" stroke="#2a4c91" stroke-width="1.4" fill="none"/>
<path d="M163.62 785.15L166.15 789.77L161.09 789.77Z" fill="#2a4c91"/>
<path d="M163.02 782.50L165.55 787.12L160.49 787.12Z" fill="#2a4c91"/>
<path d="M164.22 779.86L166.75 784.48L161.69 784.48Z" fill="#2a4c91"/>
<path d="M163.32 777.21L165.85 781.83L160.79 781.83Z" fill="#2a4c91"/>
<path d="M163.92 774.56L166.45 779.18L161.39 779.18Z" fill="#2a4c91"/>
<path d="M163.62 771.04L166.15 775.66L161.09 775.66Z" fill="#2a4c91"/>
<path d="M163.02 767.16L165.55 771.78L160.49 771.78Z" fill="#2a4c91"/>
<path d="M173.68 769.27V784.26M172.08 769.27H175.28M172.08 784.26H175.28" stroke="#66ad36" stroke-width="1.4" fill="none"/>
<path d="M173.68 786.72L176.21 782.10L171.15 782.10Z" fill="#66ad36"/>
<path d="M173.08 784.25L175.61 779.63L170.55 779.63Z" fill="#66ad36"/>
<path d="M174.28 781.61L176.81 776.99L171.75 776.99Z" fill="#66ad36"/>
<path d="M173.38 778.96L175.91 774.34L170.85 774.34Z" fill="#66ad36"/>
<path d="M173.98 776.32L176.51 771.70L171.45 771.70Z" fill="#66ad36"/>
<path d="M173.68 771.73L176.21 767.11L171.15 767.11Z" fill="#66ad36"/>
<path d="M173.08 761.67L175.61 757.05L170.55 757.05Z" fill="#66ad36"/>
<path d="M183.74 759.56V777.20M182.14 759.56H185.34M182.14 777.20H185.34" stroke="#4e2075" stroke-width="1.4" fill="none"/>
<path d="M183.74 776.57L186.16 779.32L183.74 782.07L181.32 779.32Z" fill="#4e2075"/>
<path d="M183.14 773.57L185.56 776.32L183.14 779.07L180.72 776.32Z" fill="#4e2075"/>
<path d="M184.34 770.93L186.76 773.68L184.34 776.43L181.92 773.68Z" fill="#4e2075"/>
<path d="M183.44 767.40L185.86 770.15L183.44 772.90L181.02 770.15Z" fill="#4e2075"/>
<path d="M184.04 763.87L186.46 766.62L184.04 769.37L181.62 766.62Z" fill="#4e2075"/>
<path d="M183.74 761.22L186.16 763.97L183.74 766.72L181.32 763.97Z" fill="#4e2075"/>
<path d="M183.14 757.87L185.56 760.62L183.14 763.37L180.72 760.62Z" fill="#4e2075"/>
<path d="M184.34 750.46L186.76 753.21L184.34 755.96L181.92 753.21Z" fill="#4e2075"/>
<path d="M193.80 786.02V790.43M192.20 786.02H195.40M192.20 790.43H195.40" stroke="#e8921c" stroke-width="1.4" fill="none"/>
<circle cx="193.80" cy="790.26" r="2.20" fill="#e8921c"/>
<circle cx="193.20" cy="788.85" r="2.20" fill="#e8921c"/>
<circle cx="194.40" cy="787.44" r="2.20" fill="#e8921c"/>
<circle cx="193.50" cy="786.02" r="2.20" fill="#e8921c"/>
<circle cx="194.10" cy="785.14" r="2.20" fill="#e8921c"/>
<path d="M210.50 786.91V791.32M208.90 786.91H212.10M208.90 791.32H212.10" stroke="#2b6a4c" stroke-width="1.4" fill="none"/>
<circle cx="210.50" cy="787.79" r="2.20" fill="#2b6a4c"/>
<circle cx="209.90" cy="786.55" r="2.20" fill="#2b6a4c"/>
<circle cx="211.10" cy="785.32" r="2.20" fill="#2b6a4c"/>
<circle cx="210.20" cy="784.08" r="2.20" fill="#2b6a4c"/>
<circle cx="210.80" cy="782.85" r="2.20" fill="#2b6a4c"/>
<path d="M220.56 782.50V787.79M218.96 782.50H222.16M218.96 787.79H222.16" stroke="#b2002e" stroke-width="1.4" fill="none"/>
<rect x="218.36" y="785.59" width="4.40" height="4.40" fill="#b2002e"/>
<rect x="217.76" y="783.82" width="4.40" height="4.40" fill="#b2002e"/>
<rect x="218.96" y="782.06" width="4.40" height="4.40" fill="#b2002e"/>
<rect x="218.06" y="780.30" width="4.40" height="4.40" fill="#b2002e"/>
<rect x="218.66" y="778.53" width="4.40" height="4.40" fill="#b2002e"/>
<rect x="218.36" y="776.24" width="4.40" height="4.40" fill="#b2002e"/>
<path d="M230.62 749.33V773.68M229.02 749.33H232.22M229.02 773.68H232.22" stroke="#2a4c91" stroke-width="1.4" fill="none"/>
<path d="M230.62 772.09L233.15 776.71L228.09 776.71Z" fill="#2a4c91"/>
<path d="M230.02 769.27L232.55 773.89L227.49 773.89Z" fill="#2a4c91"/>
<path d="M231.22 764.86L233.75 769.48L228.69 769.48Z" fill="#2a4c91"/>
<path d="M230.32 760.45L232.85 765.07L227.79 765.07Z" fill="#2a4c91"/>
<path d="M230.92 756.04L233.45 760.66L228.39 760.66Z" fill="#2a4c91"/>
<path d="M230.62 748.10L233.15 752.72L228.09 752.72Z" fill="#2a4c91"/>
<path d="M230.02 745.46L232.55 750.08L227.49 750.08Z" fill="#2a4c91"/>
<path d="M231.22 741.93L233.75 746.55L228.69 746.55Z" fill="#2a4c91"/>
<path d="M240.68 742.81V763.09M239.08 742.81H242.28M239.08 763.09H242.28" stroke="#66ad36" stroke-width="1.4" fill="none"/>
<path d="M240.68 769.79L243.21 765.17L238.15 765.17Z" fill="#66ad36"/>
<path d="M240.08 763.97L242.61 759.35L237.55 759.35Z" fill="#66ad36"/>
<path d="M241.28 758.68L243.81 754.06L238.75 754.06Z" fill="#66ad36"/>
<path d="M240.38 753.38L242.91 748.76L237.85 748.76Z" fill="#66ad36"/>
<path d="M240.98 749.86L243.51 745.24L238.45 745.24Z" fill="#66ad36"/>
<path d="M240.68 747.21L243.21 742.59L238.15 742.59Z" fill="#66ad36"/>
<path d="M240.08 744.92L242.61 740.30L237.55 740.30Z" fill="#66ad36"/>
<path d="M250.74 727.81V763.97M249.14 727.81H252.34M249.14 763.97H252.34" stroke="#4e2075" stroke-width="1.4" fill="none"/>
<path d="M250.74 762.11L253.16 764.86L250.74 767.61L248.32 764.86Z" fill="#4e2075"/>
<path d="M250.14 759.46L252.56 762.21L250.14 764.96L247.72 762.21Z" fill="#4e2075"/>
<path d="M251.34 755.05L253.76 757.80L251.34 760.55L248.92 757.80Z" fill="#4e2075"/>
<path d="M250.44 742.70L252.86 745.45L250.44 748.20L248.02 745.45Z" fill="#4e2075"/>
<path d="M251.04 740.94L253.46 743.69L251.04 746.44L248.62 743.69Z" fill="#4e2075"/>
<path d="M250.74 725.06L253.16 727.81L250.74 730.56L248.32 727.81Z" fill="#4e2075"/>
<path d="M250.14 719.77L252.56 722.52L250.14 725.27L247.72 722.52Z" fill="#4e2075"/>
<path d="M251.34 714.83L253.76 717.58L251.34 720.33L248.92 717.58Z" fill="#4e2075"/>
<path d="M260.80 787.79V793.08M259.20 787.79H262.40M259.20 793.08H262.40" stroke="#e8921c" stroke-width="1.4" fill="none"/>
<circle cx="260.80" cy="790.26" r="2.20" fill="#e8921c"/>
<circle cx="260.20" cy="788.49" r="2.20" fill="#e8921c"/>
<circle cx="261.40" cy="786.73" r="2.20" fill="#e8921c"/>
<circle cx="260.50" cy="784.97" r="2.20" fill="#e8921c"/>
<circle cx="261.10" cy="783.20" r="2.20" fill="#e8921c"/>
<circle cx="260.80" cy="781.44" r="2.20" fill="#e8921c"/>
<path d="M277.50 786.91V792.20M275.90 786.91H279.10M275.90 792.20H279.10" stroke="#2b6a4c" stroke-width="1.4" fill="none"/>
<circle cx="277.50" cy="787.44" r="2.20" fill="#2b6a4c"/>
<circle cx="276.90" cy="786.38" r="2.20" fill="#2b6a4c"/>
<circle cx="278.10" cy="785.32" r="2.20" fill="#2b6a4c"/>
<circle cx="277.20" cy="784.26" r="2.20" fill="#2b6a4c"/>
<circle cx="277.80" cy="782.50" r="2.20" fill="#2b6a4c"/>
<path d="M287.56 743.69V765.91M285.96 743.69H289.16M285.96 765.91H289.16" stroke="#b2002e" stroke-width="1.4" fill="none"/>
<rect x="285.36" y="768.83" width="4.40" height="4.40" fill="#b2002e"/>
<rect x="284.76" y="764.42" width="4.40" height="4.40" fill="#b2002e"/>
<rect x="285.96" y="760.89" width="4.40" height="4.40" fill="#b2002e"/>
<rect x="285.06" y="755.60" width="4.40" height="4.40" fill="#b2002e"/>
<rect x="285.66" y="752.07" width="4.40" height="4.40" fill="#b2002e"/>
<rect x="285.36" y="748.54" width="4.40" height="4.40" fill="#b2002e"/>
<rect x="284.76" y="746.78" width="4.40" height="4.40" fill="#b2002e"/>
<rect x="285.96" y="738.14" width="4.40" height="4.40" fill="#b2002e"/>
<rect x="285.06" y="727.91" width="4.40" height="4.40" fill="#b2002e"/>
<path d="M297.62 698.53V748.80M296.02 698.53H299.22M296.02 748.80H299.22" stroke="#2a4c91" stroke-width="1.4" fill="none"/>
<path d="M297.62 752.16L300.15 756.78L295.09 756.78Z" fill="#2a4c91"/>
<path d="M297.02 742.81L299.55 747.43L294.49 747.43Z" fill="#2a4c91"/>
<path d="M298.22 735.76L300.75 740.38L295.69 740.38Z" fill="#2a4c91"/>
<path d="M297.32 728.70L299.85 733.32L294.79 733.32Z" fill="#2a4c91"/>
<path d="M297.92 719.88L300.45 724.50L295.39 724.50Z" fill="#2a4c91"/>
<path d="M297.62 693.42L300.15 698.04L295.09 698.04Z" fill="#2a4c91"/>
<path d="M297.02 690.77L299.55 695.39L294.49 695.39Z" fill="#2a4c91"/>
<path d="M298.22 684.78L300.75 689.40L295.69 689.40Z" fill="#2a4c91"/>
<path d="M307.68 698.53V733.46M306.08 698.53H309.28M306.08 733.46H309.28" stroke="#66ad36" stroke-width="1.4" fill="none"/>
<path d="M307.68 746.33L310.21 741.71L305.15 741.71Z" fill="#66ad36"/>
<path d="M307.08 741.04L309.61 736.42L304.55 736.42Z" fill="#66ad36"/>
<path d="M308.28 730.45L310.81 725.83L305.75 725.83Z" fill="#66ad36"/>
<path d="M307.38 719.87L309.91 715.25L304.85 715.25Z" fill="#66ad36"/>
<path d="M307.98 712.81L310.51 708.19L305.45 708.19Z" fill="#66ad36"/>
<path d="M307.68 707.52L310.21 702.90L305.15 702.90Z" fill="#66ad36"/>
<path d="M307.08 702.23L309.61 697.61L304.55 697.61Z" fill="#66ad36"/>
<path d="M308.28 698.70L310.81 694.08L305.75 694.08Z" fill="#66ad36"/>
<path d="M307.38 694.29L309.91 689.67L304.85 689.67Z" fill="#66ad36"/>
<path d="M317.74 710.35V754.80M316.14 710.35H319.34M316.14 754.80H319.34" stroke="#4e2075" stroke-width="1.4" fill="none"/>
<path d="M317.74 752.05L320.16 754.80L317.74 757.55L315.32 754.80Z" fill="#4e2075"/>
<path d="M317.14 749.76L319.56 752.51L317.14 755.26L314.72 752.51Z" fill="#4e2075"/>
<path d="M318.34 744.47L320.76 747.22L318.34 749.97L315.92 747.22Z" fill="#4e2075"/>
<path d="M317.44 737.41L319.86 740.16L317.44 742.91L315.02 740.16Z" fill="#4e2075"/>
<path d="M318.04 730.35L320.46 733.10L318.04 735.85L315.62 733.10Z" fill="#4e2075"/>
<path d="M317.74 726.83L320.16 729.58L317.74 732.33L315.32 729.58Z" fill="#4e2075"/>
<path d="M317.14 703.01L319.56 705.76L317.14 708.51L314.72 705.76Z" fill="#4e2075"/>
<path d="M318.34 699.84L320.76 702.59L318.34 705.34L315.92 702.59Z" fill="#4e2075"/>
<path d="M327.80 786.91V791.32M326.20 786.91H329.40M326.20 791.32H329.40" stroke="#e8921c" stroke-width="1.4" fill="none"/>
<circle cx="327.80" cy="789.73" r="2.20" fill="#e8921c"/>
<circle cx="327.20" cy="788.49" r="2.20" fill="#e8921c"/>
<circle cx="328.40" cy="787.26" r="2.20" fill="#e8921c"/>
<circle cx="327.50" cy="786.02" r="2.20" fill="#e8921c"/>
<circle cx="328.10" cy="784.97" r="2.20" fill="#e8921c"/>
<path d="M344.50 786.91V791.32M342.90 786.91H346.10M342.90 791.32H346.10" stroke="#2b6a4c" stroke-width="1.4" fill="none"/>
<circle cx="344.50" cy="787.79" r="2.20" fill="#2b6a4c"/>
<circle cx="343.90" cy="786.02" r="2.20" fill="#2b6a4c"/>
<circle cx="345.10" cy="784.26" r="2.20" fill="#2b6a4c"/>
<circle cx="344.20" cy="777.20" r="2.20" fill="#2b6a4c"/>
<path d="M354.56 714.58V741.75M352.96 714.58H356.16M352.96 741.75H356.16" stroke="#b2002e" stroke-width="1.4" fill="none"/>
<rect x="352.36" y="746.78" width="4.40" height="4.40" fill="#b2002e"/>
<rect x="351.76" y="741.49" width="4.40" height="4.40" fill="#b2002e"/>
<rect x="352.96" y="735.84" width="4.40" height="4.40" fill="#b2002e"/>
<rect x="352.06" y="725.61" width="4.40" height="4.40" fill="#b2002e"/>
<rect x="352.66" y="720.50" width="4.40" height="4.40" fill="#b2002e"/>
<rect x="352.36" y="718.56" width="4.40" height="4.40" fill="#b2002e"/>
<rect x="351.76" y="710.44" width="4.40" height="4.40" fill="#b2002e"/>
<rect x="352.96" y="701.45" width="4.40" height="4.40" fill="#b2002e"/>
<path d="M364.62 686.36V737.16M363.02 686.36H366.22M363.02 737.16H366.22" stroke="#2a4c91" stroke-width="1.4" fill="none"/>
<path d="M364.62 747.22L367.15 751.84L362.09 751.84Z" fill="#2a4c91"/>
<path d="M364.02 734.52L366.55 739.14L361.49 739.14Z" fill="#2a4c91"/>
<path d="M365.22 694.65L367.75 699.27L362.69 699.27Z" fill="#2a4c91"/>
<path d="M364.32 691.66L366.85 696.28L361.79 696.28Z" fill="#2a4c91"/>
<path d="M364.92 688.13L367.45 692.75L362.39 692.75Z" fill="#2a4c91"/>
<path d="M364.62 682.84L367.15 687.46L362.09 687.46Z" fill="#2a4c91"/>
<path d="M374.68 687.24V719.17M373.08 687.24H376.28M373.08 719.17H376.28" stroke="#66ad36" stroke-width="1.4" fill="none"/>
<path d="M374.68 729.92L377.21 725.30L372.15 725.30Z" fill="#66ad36"/>
<path d="M374.08 723.40L376.61 718.78L371.55 718.78Z" fill="#66ad36"/>
<path d="M375.28 716.34L377.81 711.72L372.75 711.72Z" fill="#66ad36"/>
<path d="M374.38 709.28L376.91 704.66L371.85 704.66Z" fill="#66ad36"/>
<path d="M374.98 702.23L377.51 697.61L372.45 697.61Z" fill="#66ad36"/>
<path d="M374.68 695.17L377.21 690.55L372.15 690.55Z" fill="#66ad36"/>
<path d="M374.08 689.88L376.61 685.26L371.55 685.26Z" fill="#66ad36"/>
<path d="M375.28 681.77L377.81 677.15L372.75 677.15Z" fill="#66ad36"/>
<path d="M384.74 704.53V754.45M383.14 704.53H386.34M383.14 754.45H386.34" stroke="#4e2075" stroke-width="1.4" fill="none"/>
<path d="M384.74 752.23L387.16 754.98L384.74 757.73L382.32 754.98Z" fill="#4e2075"/>
<path d="M384.14 746.23L386.56 748.98L384.14 751.73L381.72 748.98Z" fill="#4e2075"/>
<path d="M385.34 739.17L387.76 741.92L385.34 744.67L382.92 741.92Z" fill="#4e2075"/>
<path d="M384.44 732.12L386.86 734.87L384.44 737.62L382.02 734.87Z" fill="#4e2075"/>
<path d="M385.04 725.06L387.46 727.81L385.04 730.56L382.62 727.81Z" fill="#4e2075"/>
<path d="M384.74 702.13L387.16 704.88L384.74 707.63L382.32 704.88Z" fill="#4e2075"/>
<path d="M384.14 700.37L386.56 703.12L384.14 705.87L381.72 703.12Z" fill="#4e2075"/>
<path d="M385.34 695.96L387.76 698.71L385.34 701.46L382.92 698.71Z" fill="#4e2075"/>
<path d="M394.80 786.91V791.32M393.20 786.91H396.40M393.20 791.32H396.40" stroke="#e8921c" stroke-width="1.4" fill="none"/>
<circle cx="394.80" cy="789.55" r="2.20" fill="#e8921c"/>
<circle cx="394.20" cy="786.91" r="2.20" fill="#e8921c"/>
<circle cx="395.40" cy="784.26" r="2.20" fill="#e8921c"/>
<circle cx="394.50" cy="781.61" r="2.20" fill="#e8921c"/>
<circle cx="395.10" cy="778.97" r="2.20" fill="#e8921c"/>
<path d="M70.2 656.2V801.9M65.4 801.9H403.6" stroke="#000" stroke-width="1.5" fill="none"/>
<path d="M65.4 766.62H70.2" stroke="#000" stroke-width="1.5"/>
<path d="M65.4 731.34H70.2" stroke="#000" stroke-width="1.5"/>
<path d="M65.4 696.06H70.2" stroke="#000" stroke-width="1.5"/>
<path d="M65.4 660.78H70.2" stroke="#000" stroke-width="1.5"/>
<text x="60.4" y="805.40" text-anchor="end" font-size="13">0</text>
<text x="60.4" y="770.12" text-anchor="end" font-size="13">2</text>
<text x="60.4" y="734.84" text-anchor="end" font-size="13">4</text>
<text x="60.4" y="699.56" text-anchor="end" font-size="13">6</text>
<text x="60.4" y="664.28" text-anchor="end" font-size="13">8</text>
<path d="M101.30 801.9V807.4" stroke="#000" stroke-width="1.5"/>
<path d="M168.30 801.9V807.4" stroke="#000" stroke-width="1.5"/>
<path d="M235.30 801.9V807.4" stroke="#000" stroke-width="1.5"/>
<path d="M302.30 801.9V807.4" stroke="#000" stroke-width="1.5"/>
<path d="M369.30 801.9V807.4" stroke="#000" stroke-width="1.5"/>
<text x="107.40" y="522.30" text-anchor="end" font-size="13.3" letter-spacing="0.28" transform="rotate(-45 107.40 522.30)">Unstimulated</text>
<text x="174.00" y="522.30" text-anchor="end" font-size="13.3" letter-spacing="0.28" transform="rotate(-45 174.00 522.30)">10 ng/mL</text>
<text x="240.60" y="522.30" text-anchor="end" font-size="13.3" letter-spacing="0.28" transform="rotate(-45 240.60 522.30)">25 ng/mL</text>
<text x="307.20" y="522.30" text-anchor="end" font-size="13.3" letter-spacing="0.28" transform="rotate(-45 307.20 522.30)">100 ng/mL</text>
<text x="373.80" y="522.30" text-anchor="end" font-size="13.3" letter-spacing="0.28" transform="rotate(-45 373.80 522.30)">500 ng/mL</text>
<text x="107.50" y="816.50" text-anchor="end" font-size="13.3" letter-spacing="0.28" transform="rotate(-45 107.50 816.50)">Unstimulated</text>
<text x="174.50" y="816.50" text-anchor="end" font-size="13.3" letter-spacing="0.28" transform="rotate(-45 174.50 816.50)">25 ng/mL</text>
<text x="241.50" y="816.50" text-anchor="end" font-size="13.3" letter-spacing="0.28" transform="rotate(-45 241.50 816.50)">100 ng/mL</text>
<text x="308.50" y="816.50" text-anchor="end" font-size="13.3" letter-spacing="0.28" transform="rotate(-45 308.50 816.50)">500 ng/mL</text>
<text x="375.50" y="816.50" text-anchor="end" font-size="13.3" letter-spacing="0.28" transform="rotate(-45 375.50 816.50)">1 ug/mL</text>
<path d="M156.70 412.95L157.26 414.48L158.89 414.54L157.60 415.54L158.05 417.11L156.70 416.20L155.35 417.11L155.80 415.54L154.51 414.54L156.14 414.48ZM161.50 412.95L162.06 414.48L163.69 414.54L162.40 415.54L162.85 417.11L161.50 416.20L160.15 417.11L160.60 415.54L159.31 414.54L160.94 414.48ZM166.30 412.95L166.86 414.48L168.49 414.54L167.20 415.54L167.65 417.11L166.30 416.20L164.95 417.11L165.40 415.54L164.11 414.54L165.74 414.48ZM164.70 403.55L165.26 405.08L166.89 405.14L165.60 406.14L166.05 407.71L164.70 406.80L163.35 407.71L163.80 406.14L162.51 405.14L164.14 405.08ZM169.50 403.55L170.06 405.08L171.69 405.14L170.40 406.14L170.85 407.71L169.50 406.80L168.15 407.71L168.60 406.14L167.31 405.14L168.94 405.08ZM174.30 403.55L174.86 405.08L176.49 405.14L175.20 406.14L175.65 407.71L174.30 406.80L172.95 407.71L173.40 406.14L172.11 405.14L173.74 405.08ZM181.10 396.15L181.66 397.68L183.29 397.74L182.00 398.74L182.45 400.31L181.10 399.40L179.75 400.31L180.20 398.74L178.91 397.74L180.54 397.68ZM185.90 396.15L186.46 397.68L188.09 397.74L186.80 398.74L187.25 400.31L185.90 399.40L184.55 400.31L185.00 398.74L183.71 397.74L185.34 397.68ZM223.10 396.15L223.66 397.68L225.29 397.74L224.00 398.74L224.45 400.31L223.10 399.40L221.75 400.31L222.20 398.74L220.91 397.74L222.54 397.68ZM227.90 396.15L228.46 397.68L230.09 397.74L228.80 398.74L229.25 400.31L227.90 399.40L226.55 400.31L227.00 398.74L225.71 397.74L227.34 397.68ZM232.70 396.15L233.26 397.68L234.89 397.74L233.60 398.74L234.05 400.31L232.70 399.40L231.35 400.31L231.80 398.74L230.51 397.74L232.14 397.68ZM233.70 387.65L234.26 389.18L235.89 389.24L234.60 390.24L235.05 391.81L233.70 390.90L232.35 391.81L232.80 390.24L231.51 389.24L233.14 389.18ZM238.50 387.65L239.06 389.18L240.69 389.24L239.40 390.24L239.85 391.81L238.50 390.90L237.15 391.81L237.60 390.24L236.31 389.24L237.94 389.18ZM243.30 387.65L243.86 389.18L245.49 389.24L244.20 390.24L244.65 391.81L243.30 390.90L241.95 391.81L242.40 390.24L241.11 389.24L242.74 389.18ZM249.60 380.75L250.16 382.28L251.79 382.34L250.50 383.34L250.95 384.91L249.60 384.00L248.25 384.91L248.70 383.34L247.41 382.34L249.04 382.28ZM254.40 380.75L254.96 382.28L256.59 382.34L255.30 383.34L255.75 384.91L254.40 384.00L253.05 384.91L253.50 383.34L252.21 382.34L253.84 382.28ZM223.60 731.45L224.16 732.98L225.79 733.04L224.50 734.04L224.95 735.61L223.60 734.70L222.25 735.61L222.70 734.04L221.41 733.04L223.04 732.98ZM228.40 731.45L228.96 732.98L230.59 733.04L229.30 734.04L229.75 735.61L228.40 734.70L227.05 735.61L227.50 734.04L226.21 733.04L227.84 732.98ZM236.00 731.45L236.56 732.98L238.19 733.04L236.90 734.04L237.35 735.61L236.00 734.70L234.65 735.61L235.10 734.04L233.81 733.04L235.44 732.98ZM240.80 731.45L241.36 732.98L242.99 733.04L241.70 734.04L242.15 735.61L240.80 734.70L239.45 735.61L239.90 734.04L238.61 733.04L240.24 732.98ZM245.60 731.45L246.16 732.98L247.79 733.04L246.50 734.04L246.95 735.61L245.60 734.70L244.25 735.61L244.70 734.04L243.41 733.04L245.04 732.98ZM248.10 701.05L248.66 702.58L250.29 702.64L249.00 703.64L249.45 705.21L248.10 704.30L246.75 705.21L247.20 703.64L245.91 702.64L247.54 702.58ZM252.90 701.05L253.46 702.58L255.09 702.64L253.80 703.64L254.25 705.21L252.90 704.30L251.55 705.21L252.00 703.64L250.71 702.64L252.34 702.58ZM257.70 701.05L258.26 702.58L259.89 702.64L258.60 703.64L259.05 705.21L257.70 704.30L256.35 705.21L256.80 703.64L255.51 702.64L257.14 702.58ZM286.50 674.05L287.06 675.58L288.69 675.64L287.40 676.64L287.85 678.21L286.50 677.30L285.15 678.21L285.60 676.64L284.31 675.64L285.94 675.58ZM291.30 674.05L291.86 675.58L293.49 675.64L292.20 676.64L292.65 678.21L291.30 677.30L289.95 678.21L290.40 676.64L289.11 675.64L290.74 675.58ZM296.10 674.05L296.66 675.58L298.29 675.64L297.00 676.64L297.45 678.21L296.10 677.30L294.75 678.21L295.20 676.64L293.91 675.64L295.54 675.58ZM302.90 674.05L303.46 675.58L305.09 675.64L303.80 676.64L304.25 678.21L302.90 677.30L301.55 678.21L302.00 676.64L300.71 675.64L302.34 675.58ZM307.70 674.05L308.26 675.58L309.89 675.64L308.60 676.64L309.05 678.21L307.70 677.30L306.35 678.21L306.80 676.64L305.51 675.64L307.14 675.58ZM312.50 674.05L313.06 675.58L314.69 675.64L313.40 676.64L313.85 678.21L312.50 677.30L311.15 678.21L311.60 676.64L310.31 675.64L311.94 675.58ZM318.95 674.05L319.51 675.58L321.14 675.64L319.85 676.64L320.30 678.21L318.95 677.30L317.60 678.21L318.05 676.64L316.76 675.64L318.39 675.58ZM323.75 674.05L324.31 675.58L325.94 675.64L324.65 676.64L325.10 678.21L323.75 677.30L322.40 678.21L322.85 676.64L321.56 675.64L323.19 675.58Z" fill="#111"/>
<text transform="translate(24.6 434.6) rotate(-90) scale(0.735 1)" font-size="15.8" text-anchor="middle">Fold change SEAP</text>
<text transform="translate(43.6 433.8) rotate(-90) scale(0.755 1)" font-size="15.8" text-anchor="middle">(NF-kB activity)</text>
<text transform="translate(24.6 728.5) rotate(-90) scale(0.735 1)" font-size="15.8" text-anchor="middle">Fold change SEAP</text>
<text transform="translate(43.6 727.7) rotate(-90) scale(0.755 1)" font-size="15.8" text-anchor="middle">(NF-kB activity)</text>
<text transform="translate(236.3 599.1) scale(0.78 1)" font-size="15.7" text-anchor="middle">TL8-506 (ng/mL)</text>
<text transform="translate(237 893.6) scale(0.74 1)" font-size="16.4" text-anchor="middle">CLO75 (ng/mL)</text>
<circle cx="418.30" cy="383.10" r="1.80" fill="#2b6a4c"/>
<text x="426.3" y="387.0" font-size="12.4">Untransfected</text>
<rect x="416.50" y="400.90" width="3.60" height="3.60" fill="#b2002e"/>
<text x="426.3" y="406.6" font-size="12.4">WT TLR8</text>
<path d="M418.30 420.14L420.37 423.92L416.23 423.92Z" fill="#2a4c91"/>
<text x="426.3" y="426.2" font-size="12.4">p.P432L</text>
<path d="M418.30 444.06L420.37 440.28L416.23 440.28Z" fill="#66ad36"/>
<text x="426.3" y="445.8" font-size="12.4">p.F494L</text>
<path d="M418.30 459.25L420.28 461.50L418.30 463.75L416.32 461.50Z" fill="#4e2075"/>
<text x="426.3" y="465.4" font-size="12.4">p.G572D</text>
<circle cx="418.30" cy="481.10" r="1.80" fill="#e8921c"/>
<text x="426.3" y="485.0" font-size="12.4">p.D543A (LOF)</text>
</svg></body></html>
